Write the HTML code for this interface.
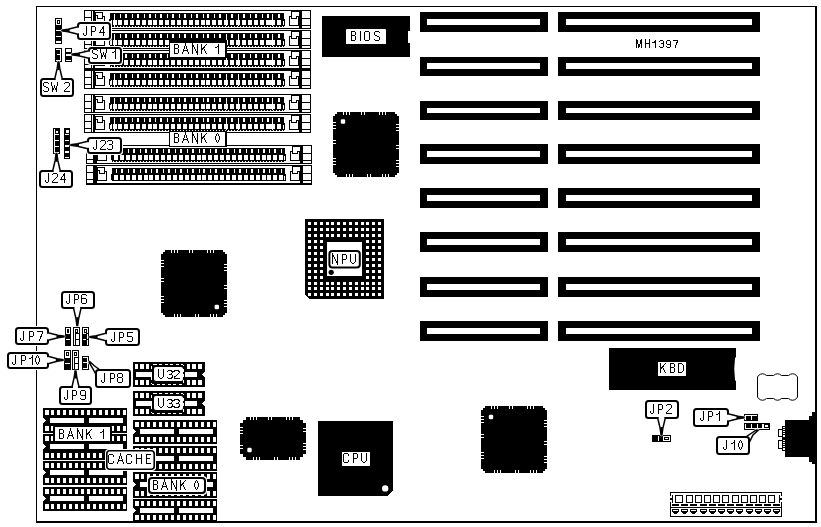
<!DOCTYPE html>
<html><head><meta charset="utf-8"><title>MH1397</title>
<style>
html,body{margin:0;padding:0;background:#fff;}
body{width:821px;height:527px;overflow:hidden;}
svg{display:block}
text{font-family:"Liberation Sans",sans-serif;fill:#000;}
</style></head><body>
<svg width="821" height="527" viewBox="0 0 821 527" shape-rendering="crispEdges">
<defs><filter id="thr" x="0" y="0" width="821" height="527" filterUnits="userSpaceOnUse" color-interpolation-filters="sRGB"><feComponentTransfer><feFuncA type="discrete" tableValues="0 0 1 1 1"/></feComponentTransfer></filter></defs>
<rect x="0" y="0" width="821" height="527" fill="#fff"/>
<rect x="36" y="6" width="781" height="517" fill="#000" />
<rect x="37" y="7" width="778" height="514" fill="#fff" />
<rect x="84" y="10" width="227" height="19" fill="#000" />
<rect x="85" y="11" width="225" height="17" fill="#fff" />
<rect x="84" y="17" width="8" height="1" fill="#000" />
<rect x="84" y="24" width="8" height="1" fill="#000" />
<rect x="91" y="10" width="1" height="18" fill="#000" />
<rect x="93" y="10" width="2" height="18" fill="#000" />
<rect x="95" y="12" width="8" height="1" fill="#000" />
<rect x="102" y="12" width="1" height="7" fill="#000" />
<rect x="102" y="16" width="3" height="1" fill="#000" />
<rect x="104" y="16" width="1" height="10" fill="#000" />
<rect x="95" y="25" width="10" height="1" fill="#000" />
<rect x="95" y="12" width="1" height="14" fill="#000" />
<rect x="95" y="15" width="3" height="1" fill="#000" />
<rect x="97" y="15" width="1" height="4" fill="#000" />
<rect x="97" y="18" width="6" height="1" fill="#000" />
<rect x="110" y="13" width="174" height="13" fill="#000" />
<rect x="109" y="19" width="1" height="6" fill="#000" />
<rect x="284" y="19" width="1" height="7" fill="#000" />
<rect x="110" y="26" width="174" height="1" fill="#000" />
<rect x="111" y="26" width="1" height="1" fill="#fff" />
<rect x="114" y="26" width="1" height="1" fill="#fff" />
<rect x="117" y="26" width="1" height="1" fill="#fff" />
<rect x="120" y="26" width="1" height="1" fill="#fff" />
<rect x="123" y="26" width="1" height="1" fill="#fff" />
<rect x="126" y="26" width="1" height="1" fill="#fff" />
<rect x="129" y="26" width="1" height="1" fill="#fff" />
<rect x="132" y="26" width="1" height="1" fill="#fff" />
<rect x="135" y="26" width="1" height="1" fill="#fff" />
<rect x="138" y="26" width="1" height="1" fill="#fff" />
<rect x="141" y="26" width="1" height="1" fill="#fff" />
<rect x="144" y="26" width="1" height="1" fill="#fff" />
<rect x="147" y="26" width="1" height="1" fill="#fff" />
<rect x="150" y="26" width="1" height="1" fill="#fff" />
<rect x="153" y="26" width="1" height="1" fill="#fff" />
<rect x="156" y="26" width="1" height="1" fill="#fff" />
<rect x="159" y="26" width="1" height="1" fill="#fff" />
<rect x="162" y="26" width="1" height="1" fill="#fff" />
<rect x="165" y="26" width="1" height="1" fill="#fff" />
<rect x="168" y="26" width="1" height="1" fill="#fff" />
<rect x="171" y="26" width="1" height="1" fill="#fff" />
<rect x="174" y="26" width="1" height="1" fill="#fff" />
<rect x="177" y="26" width="1" height="1" fill="#fff" />
<rect x="180" y="26" width="1" height="1" fill="#fff" />
<rect x="183" y="26" width="1" height="1" fill="#fff" />
<rect x="186" y="26" width="1" height="1" fill="#fff" />
<rect x="189" y="26" width="1" height="1" fill="#fff" />
<rect x="192" y="26" width="1" height="1" fill="#fff" />
<rect x="195" y="26" width="1" height="1" fill="#fff" />
<rect x="198" y="26" width="1" height="1" fill="#fff" />
<rect x="201" y="26" width="1" height="1" fill="#fff" />
<rect x="204" y="26" width="1" height="1" fill="#fff" />
<rect x="207" y="26" width="1" height="1" fill="#fff" />
<rect x="210" y="26" width="1" height="1" fill="#fff" />
<rect x="213" y="26" width="1" height="1" fill="#fff" />
<rect x="216" y="26" width="1" height="1" fill="#fff" />
<rect x="219" y="26" width="1" height="1" fill="#fff" />
<rect x="222" y="26" width="1" height="1" fill="#fff" />
<rect x="225" y="26" width="1" height="1" fill="#fff" />
<rect x="228" y="26" width="1" height="1" fill="#fff" />
<rect x="231" y="26" width="1" height="1" fill="#fff" />
<rect x="234" y="26" width="1" height="1" fill="#fff" />
<rect x="237" y="26" width="1" height="1" fill="#fff" />
<rect x="240" y="26" width="1" height="1" fill="#fff" />
<rect x="243" y="26" width="1" height="1" fill="#fff" />
<rect x="246" y="26" width="1" height="1" fill="#fff" />
<rect x="249" y="26" width="1" height="1" fill="#fff" />
<rect x="252" y="26" width="1" height="1" fill="#fff" />
<rect x="255" y="26" width="1" height="1" fill="#fff" />
<rect x="258" y="26" width="1" height="1" fill="#fff" />
<rect x="261" y="26" width="1" height="1" fill="#fff" />
<rect x="264" y="26" width="1" height="1" fill="#fff" />
<rect x="267" y="26" width="1" height="1" fill="#fff" />
<rect x="270" y="26" width="1" height="1" fill="#fff" />
<rect x="273" y="26" width="1" height="1" fill="#fff" />
<rect x="276" y="26" width="1" height="1" fill="#fff" />
<rect x="279" y="26" width="1" height="1" fill="#fff" />
<rect x="282" y="26" width="1" height="1" fill="#fff" />
<rect x="110" y="20" width="2" height="5" fill="#fff" />
<rect x="110" y="20" width="1" height="1" fill="#000" />
<rect x="113" y="20" width="4" height="5" fill="#fff" />
<rect x="114" y="14" width="1" height="7" fill="#fff" />
<rect x="114" y="25" width="1" height="1" fill="#fff" />
<rect x="118" y="20" width="4" height="5" fill="#fff" />
<rect x="120" y="14" width="1" height="4" fill="#fff" />
<rect x="124" y="20" width="4" height="5" fill="#fff" />
<rect x="125" y="14" width="2" height="4" fill="#fff" />
<rect x="130" y="20" width="4" height="5" fill="#fff" />
<rect x="132" y="14" width="1" height="4" fill="#fff" />
<rect x="136" y="20" width="4" height="5" fill="#fff" />
<rect x="137" y="14" width="2" height="4" fill="#fff" />
<rect x="142" y="20" width="4" height="5" fill="#fff" />
<rect x="144" y="14" width="1" height="4" fill="#fff" />
<rect x="148" y="20" width="4" height="5" fill="#fff" />
<rect x="149" y="14" width="2" height="4" fill="#fff" />
<rect x="153" y="20" width="4" height="5" fill="#fff" />
<rect x="155" y="14" width="1" height="4" fill="#fff" />
<rect x="159" y="20" width="4" height="5" fill="#fff" />
<rect x="160" y="14" width="2" height="4" fill="#fff" />
<rect x="165" y="20" width="4" height="5" fill="#fff" />
<rect x="167" y="14" width="1" height="4" fill="#fff" />
<rect x="171" y="20" width="4" height="5" fill="#fff" />
<rect x="172" y="14" width="2" height="4" fill="#fff" />
<rect x="177" y="20" width="4" height="5" fill="#fff" />
<rect x="179" y="14" width="1" height="4" fill="#fff" />
<rect x="183" y="20" width="4" height="5" fill="#fff" />
<rect x="184" y="14" width="2" height="4" fill="#fff" />
<rect x="189" y="20" width="4" height="5" fill="#fff" />
<rect x="191" y="14" width="1" height="4" fill="#fff" />
<rect x="195" y="20" width="4" height="5" fill="#fff" />
<rect x="196" y="14" width="2" height="4" fill="#fff" />
<rect x="201" y="20" width="4" height="5" fill="#fff" />
<rect x="203" y="14" width="1" height="4" fill="#fff" />
<rect x="206" y="20" width="4" height="5" fill="#fff" />
<rect x="207" y="14" width="2" height="4" fill="#fff" />
<rect x="212" y="20" width="4" height="5" fill="#fff" />
<rect x="214" y="14" width="1" height="4" fill="#fff" />
<rect x="218" y="20" width="4" height="5" fill="#fff" />
<rect x="219" y="14" width="2" height="4" fill="#fff" />
<rect x="224" y="20" width="4" height="5" fill="#fff" />
<rect x="226" y="14" width="1" height="12" fill="#fff" />
<rect x="230" y="20" width="4" height="5" fill="#fff" />
<rect x="231" y="14" width="2" height="4" fill="#fff" />
<rect x="236" y="20" width="4" height="5" fill="#fff" />
<rect x="238" y="14" width="1" height="12" fill="#fff" />
<rect x="242" y="20" width="4" height="5" fill="#fff" />
<rect x="243" y="14" width="2" height="4" fill="#fff" />
<rect x="248" y="20" width="4" height="5" fill="#fff" />
<rect x="250" y="14" width="1" height="4" fill="#fff" />
<rect x="254" y="20" width="4" height="5" fill="#fff" />
<rect x="255" y="14" width="2" height="4" fill="#fff" />
<rect x="260" y="20" width="4" height="5" fill="#fff" />
<rect x="262" y="14" width="1" height="4" fill="#fff" />
<rect x="266" y="20" width="4" height="5" fill="#fff" />
<rect x="267" y="14" width="2" height="4" fill="#fff" />
<rect x="270" y="20" width="5" height="5" fill="#fff" />
<rect x="272" y="14" width="1" height="7" fill="#fff" />
<rect x="272" y="25" width="1" height="1" fill="#fff" />
<rect x="277" y="20" width="4" height="5" fill="#fff" />
<rect x="278" y="14" width="2" height="4" fill="#fff" />
<rect x="283" y="21" width="1" height="4" fill="#fff" />
<rect x="291" y="11" width="8" height="1" fill="#000" />
<rect x="291" y="11" width="1" height="8" fill="#000" />
<rect x="289" y="16" width="3" height="1" fill="#000" />
<rect x="289" y="16" width="1" height="10" fill="#000" />
<rect x="289" y="25" width="10" height="1" fill="#000" />
<rect x="298" y="16" width="1" height="10" fill="#000" />
<rect x="296" y="16" width="3" height="1" fill="#000" />
<rect x="296" y="16" width="1" height="3" fill="#000" />
<rect x="291" y="18" width="6" height="1" fill="#000" />
<rect x="299" y="10" width="3" height="18" fill="#000" />
<rect x="302" y="18" width="9" height="1" fill="#000" />
<rect x="302" y="25" width="9" height="1" fill="#000" />
<rect x="84" y="30" width="227" height="19" fill="#000" />
<rect x="85" y="31" width="225" height="17" fill="#fff" />
<rect x="84" y="37" width="8" height="1" fill="#000" />
<rect x="84" y="44" width="8" height="1" fill="#000" />
<rect x="91" y="30" width="1" height="18" fill="#000" />
<rect x="93" y="30" width="2" height="18" fill="#000" />
<rect x="95" y="32" width="8" height="1" fill="#000" />
<rect x="102" y="32" width="1" height="7" fill="#000" />
<rect x="102" y="36" width="3" height="1" fill="#000" />
<rect x="104" y="36" width="1" height="10" fill="#000" />
<rect x="95" y="45" width="10" height="1" fill="#000" />
<rect x="95" y="32" width="1" height="14" fill="#000" />
<rect x="95" y="35" width="3" height="1" fill="#000" />
<rect x="97" y="35" width="1" height="4" fill="#000" />
<rect x="97" y="38" width="6" height="1" fill="#000" />
<rect x="110" y="33" width="174" height="13" fill="#000" />
<rect x="109" y="39" width="1" height="6" fill="#000" />
<rect x="284" y="39" width="1" height="7" fill="#000" />
<rect x="110" y="46" width="174" height="1" fill="#000" />
<rect x="111" y="46" width="1" height="1" fill="#fff" />
<rect x="114" y="46" width="1" height="1" fill="#fff" />
<rect x="117" y="46" width="1" height="1" fill="#fff" />
<rect x="120" y="46" width="1" height="1" fill="#fff" />
<rect x="123" y="46" width="1" height="1" fill="#fff" />
<rect x="126" y="46" width="1" height="1" fill="#fff" />
<rect x="129" y="46" width="1" height="1" fill="#fff" />
<rect x="132" y="46" width="1" height="1" fill="#fff" />
<rect x="135" y="46" width="1" height="1" fill="#fff" />
<rect x="138" y="46" width="1" height="1" fill="#fff" />
<rect x="141" y="46" width="1" height="1" fill="#fff" />
<rect x="144" y="46" width="1" height="1" fill="#fff" />
<rect x="147" y="46" width="1" height="1" fill="#fff" />
<rect x="150" y="46" width="1" height="1" fill="#fff" />
<rect x="153" y="46" width="1" height="1" fill="#fff" />
<rect x="156" y="46" width="1" height="1" fill="#fff" />
<rect x="159" y="46" width="1" height="1" fill="#fff" />
<rect x="162" y="46" width="1" height="1" fill="#fff" />
<rect x="165" y="46" width="1" height="1" fill="#fff" />
<rect x="168" y="46" width="1" height="1" fill="#fff" />
<rect x="171" y="46" width="1" height="1" fill="#fff" />
<rect x="174" y="46" width="1" height="1" fill="#fff" />
<rect x="177" y="46" width="1" height="1" fill="#fff" />
<rect x="180" y="46" width="1" height="1" fill="#fff" />
<rect x="183" y="46" width="1" height="1" fill="#fff" />
<rect x="186" y="46" width="1" height="1" fill="#fff" />
<rect x="189" y="46" width="1" height="1" fill="#fff" />
<rect x="192" y="46" width="1" height="1" fill="#fff" />
<rect x="195" y="46" width="1" height="1" fill="#fff" />
<rect x="198" y="46" width="1" height="1" fill="#fff" />
<rect x="201" y="46" width="1" height="1" fill="#fff" />
<rect x="204" y="46" width="1" height="1" fill="#fff" />
<rect x="207" y="46" width="1" height="1" fill="#fff" />
<rect x="210" y="46" width="1" height="1" fill="#fff" />
<rect x="213" y="46" width="1" height="1" fill="#fff" />
<rect x="216" y="46" width="1" height="1" fill="#fff" />
<rect x="219" y="46" width="1" height="1" fill="#fff" />
<rect x="222" y="46" width="1" height="1" fill="#fff" />
<rect x="225" y="46" width="1" height="1" fill="#fff" />
<rect x="228" y="46" width="1" height="1" fill="#fff" />
<rect x="231" y="46" width="1" height="1" fill="#fff" />
<rect x="234" y="46" width="1" height="1" fill="#fff" />
<rect x="237" y="46" width="1" height="1" fill="#fff" />
<rect x="240" y="46" width="1" height="1" fill="#fff" />
<rect x="243" y="46" width="1" height="1" fill="#fff" />
<rect x="246" y="46" width="1" height="1" fill="#fff" />
<rect x="249" y="46" width="1" height="1" fill="#fff" />
<rect x="252" y="46" width="1" height="1" fill="#fff" />
<rect x="255" y="46" width="1" height="1" fill="#fff" />
<rect x="258" y="46" width="1" height="1" fill="#fff" />
<rect x="261" y="46" width="1" height="1" fill="#fff" />
<rect x="264" y="46" width="1" height="1" fill="#fff" />
<rect x="267" y="46" width="1" height="1" fill="#fff" />
<rect x="270" y="46" width="1" height="1" fill="#fff" />
<rect x="273" y="46" width="1" height="1" fill="#fff" />
<rect x="276" y="46" width="1" height="1" fill="#fff" />
<rect x="279" y="46" width="1" height="1" fill="#fff" />
<rect x="282" y="46" width="1" height="1" fill="#fff" />
<rect x="110" y="40" width="2" height="5" fill="#fff" />
<rect x="110" y="40" width="1" height="1" fill="#000" />
<rect x="113" y="40" width="4" height="5" fill="#fff" />
<rect x="114" y="34" width="1" height="7" fill="#fff" />
<rect x="114" y="45" width="1" height="1" fill="#fff" />
<rect x="118" y="40" width="4" height="5" fill="#fff" />
<rect x="120" y="34" width="1" height="4" fill="#fff" />
<rect x="124" y="40" width="4" height="5" fill="#fff" />
<rect x="125" y="34" width="2" height="4" fill="#fff" />
<rect x="130" y="40" width="4" height="5" fill="#fff" />
<rect x="132" y="34" width="1" height="4" fill="#fff" />
<rect x="136" y="40" width="4" height="5" fill="#fff" />
<rect x="137" y="34" width="2" height="4" fill="#fff" />
<rect x="142" y="40" width="4" height="5" fill="#fff" />
<rect x="144" y="34" width="1" height="4" fill="#fff" />
<rect x="148" y="40" width="4" height="5" fill="#fff" />
<rect x="149" y="34" width="2" height="4" fill="#fff" />
<rect x="153" y="40" width="4" height="5" fill="#fff" />
<rect x="155" y="34" width="1" height="4" fill="#fff" />
<rect x="159" y="40" width="4" height="5" fill="#fff" />
<rect x="160" y="34" width="2" height="4" fill="#fff" />
<rect x="165" y="40" width="4" height="5" fill="#fff" />
<rect x="167" y="34" width="1" height="4" fill="#fff" />
<rect x="171" y="40" width="4" height="5" fill="#fff" />
<rect x="172" y="34" width="2" height="4" fill="#fff" />
<rect x="177" y="40" width="4" height="5" fill="#fff" />
<rect x="179" y="34" width="1" height="4" fill="#fff" />
<rect x="183" y="40" width="4" height="5" fill="#fff" />
<rect x="184" y="34" width="2" height="4" fill="#fff" />
<rect x="189" y="40" width="4" height="5" fill="#fff" />
<rect x="191" y="34" width="1" height="4" fill="#fff" />
<rect x="195" y="40" width="4" height="5" fill="#fff" />
<rect x="196" y="34" width="2" height="4" fill="#fff" />
<rect x="201" y="40" width="4" height="5" fill="#fff" />
<rect x="203" y="34" width="1" height="4" fill="#fff" />
<rect x="206" y="40" width="4" height="5" fill="#fff" />
<rect x="207" y="34" width="2" height="4" fill="#fff" />
<rect x="212" y="40" width="4" height="5" fill="#fff" />
<rect x="214" y="34" width="1" height="4" fill="#fff" />
<rect x="218" y="40" width="4" height="5" fill="#fff" />
<rect x="219" y="34" width="2" height="4" fill="#fff" />
<rect x="224" y="40" width="4" height="5" fill="#fff" />
<rect x="226" y="34" width="1" height="12" fill="#fff" />
<rect x="230" y="40" width="4" height="5" fill="#fff" />
<rect x="231" y="34" width="2" height="4" fill="#fff" />
<rect x="236" y="40" width="4" height="5" fill="#fff" />
<rect x="238" y="34" width="1" height="12" fill="#fff" />
<rect x="242" y="40" width="4" height="5" fill="#fff" />
<rect x="243" y="34" width="2" height="4" fill="#fff" />
<rect x="248" y="40" width="4" height="5" fill="#fff" />
<rect x="250" y="34" width="1" height="4" fill="#fff" />
<rect x="254" y="40" width="4" height="5" fill="#fff" />
<rect x="255" y="34" width="2" height="4" fill="#fff" />
<rect x="260" y="40" width="4" height="5" fill="#fff" />
<rect x="262" y="34" width="1" height="4" fill="#fff" />
<rect x="266" y="40" width="4" height="5" fill="#fff" />
<rect x="267" y="34" width="2" height="4" fill="#fff" />
<rect x="270" y="40" width="5" height="5" fill="#fff" />
<rect x="272" y="34" width="1" height="7" fill="#fff" />
<rect x="272" y="45" width="1" height="1" fill="#fff" />
<rect x="277" y="40" width="4" height="5" fill="#fff" />
<rect x="278" y="34" width="2" height="4" fill="#fff" />
<rect x="283" y="41" width="1" height="4" fill="#fff" />
<rect x="291" y="31" width="8" height="1" fill="#000" />
<rect x="291" y="31" width="1" height="8" fill="#000" />
<rect x="289" y="36" width="3" height="1" fill="#000" />
<rect x="289" y="36" width="1" height="10" fill="#000" />
<rect x="289" y="45" width="10" height="1" fill="#000" />
<rect x="298" y="36" width="1" height="10" fill="#000" />
<rect x="296" y="36" width="3" height="1" fill="#000" />
<rect x="296" y="36" width="1" height="3" fill="#000" />
<rect x="291" y="38" width="6" height="1" fill="#000" />
<rect x="299" y="30" width="3" height="18" fill="#000" />
<rect x="302" y="38" width="9" height="1" fill="#000" />
<rect x="302" y="45" width="9" height="1" fill="#000" />
<rect x="84" y="50" width="227" height="19" fill="#000" />
<rect x="85" y="51" width="225" height="17" fill="#fff" />
<rect x="84" y="57" width="8" height="1" fill="#000" />
<rect x="84" y="64" width="8" height="1" fill="#000" />
<rect x="91" y="50" width="1" height="18" fill="#000" />
<rect x="93" y="50" width="2" height="18" fill="#000" />
<rect x="95" y="52" width="8" height="1" fill="#000" />
<rect x="102" y="52" width="1" height="7" fill="#000" />
<rect x="102" y="56" width="3" height="1" fill="#000" />
<rect x="104" y="56" width="1" height="10" fill="#000" />
<rect x="95" y="65" width="10" height="1" fill="#000" />
<rect x="95" y="52" width="1" height="14" fill="#000" />
<rect x="95" y="55" width="3" height="1" fill="#000" />
<rect x="97" y="55" width="1" height="4" fill="#000" />
<rect x="97" y="58" width="6" height="1" fill="#000" />
<rect x="110" y="53" width="174" height="13" fill="#000" />
<rect x="109" y="59" width="1" height="6" fill="#000" />
<rect x="284" y="59" width="1" height="7" fill="#000" />
<rect x="110" y="66" width="174" height="1" fill="#000" />
<rect x="111" y="66" width="1" height="1" fill="#fff" />
<rect x="114" y="66" width="1" height="1" fill="#fff" />
<rect x="117" y="66" width="1" height="1" fill="#fff" />
<rect x="120" y="66" width="1" height="1" fill="#fff" />
<rect x="123" y="66" width="1" height="1" fill="#fff" />
<rect x="126" y="66" width="1" height="1" fill="#fff" />
<rect x="129" y="66" width="1" height="1" fill="#fff" />
<rect x="132" y="66" width="1" height="1" fill="#fff" />
<rect x="135" y="66" width="1" height="1" fill="#fff" />
<rect x="138" y="66" width="1" height="1" fill="#fff" />
<rect x="141" y="66" width="1" height="1" fill="#fff" />
<rect x="144" y="66" width="1" height="1" fill="#fff" />
<rect x="147" y="66" width="1" height="1" fill="#fff" />
<rect x="150" y="66" width="1" height="1" fill="#fff" />
<rect x="153" y="66" width="1" height="1" fill="#fff" />
<rect x="156" y="66" width="1" height="1" fill="#fff" />
<rect x="159" y="66" width="1" height="1" fill="#fff" />
<rect x="162" y="66" width="1" height="1" fill="#fff" />
<rect x="165" y="66" width="1" height="1" fill="#fff" />
<rect x="168" y="66" width="1" height="1" fill="#fff" />
<rect x="171" y="66" width="1" height="1" fill="#fff" />
<rect x="174" y="66" width="1" height="1" fill="#fff" />
<rect x="177" y="66" width="1" height="1" fill="#fff" />
<rect x="180" y="66" width="1" height="1" fill="#fff" />
<rect x="183" y="66" width="1" height="1" fill="#fff" />
<rect x="186" y="66" width="1" height="1" fill="#fff" />
<rect x="189" y="66" width="1" height="1" fill="#fff" />
<rect x="192" y="66" width="1" height="1" fill="#fff" />
<rect x="195" y="66" width="1" height="1" fill="#fff" />
<rect x="198" y="66" width="1" height="1" fill="#fff" />
<rect x="201" y="66" width="1" height="1" fill="#fff" />
<rect x="204" y="66" width="1" height="1" fill="#fff" />
<rect x="207" y="66" width="1" height="1" fill="#fff" />
<rect x="210" y="66" width="1" height="1" fill="#fff" />
<rect x="213" y="66" width="1" height="1" fill="#fff" />
<rect x="216" y="66" width="1" height="1" fill="#fff" />
<rect x="219" y="66" width="1" height="1" fill="#fff" />
<rect x="222" y="66" width="1" height="1" fill="#fff" />
<rect x="225" y="66" width="1" height="1" fill="#fff" />
<rect x="228" y="66" width="1" height="1" fill="#fff" />
<rect x="231" y="66" width="1" height="1" fill="#fff" />
<rect x="234" y="66" width="1" height="1" fill="#fff" />
<rect x="237" y="66" width="1" height="1" fill="#fff" />
<rect x="240" y="66" width="1" height="1" fill="#fff" />
<rect x="243" y="66" width="1" height="1" fill="#fff" />
<rect x="246" y="66" width="1" height="1" fill="#fff" />
<rect x="249" y="66" width="1" height="1" fill="#fff" />
<rect x="252" y="66" width="1" height="1" fill="#fff" />
<rect x="255" y="66" width="1" height="1" fill="#fff" />
<rect x="258" y="66" width="1" height="1" fill="#fff" />
<rect x="261" y="66" width="1" height="1" fill="#fff" />
<rect x="264" y="66" width="1" height="1" fill="#fff" />
<rect x="267" y="66" width="1" height="1" fill="#fff" />
<rect x="270" y="66" width="1" height="1" fill="#fff" />
<rect x="273" y="66" width="1" height="1" fill="#fff" />
<rect x="276" y="66" width="1" height="1" fill="#fff" />
<rect x="279" y="66" width="1" height="1" fill="#fff" />
<rect x="282" y="66" width="1" height="1" fill="#fff" />
<rect x="110" y="60" width="2" height="5" fill="#fff" />
<rect x="110" y="60" width="1" height="1" fill="#000" />
<rect x="113" y="60" width="4" height="5" fill="#fff" />
<rect x="114" y="54" width="1" height="7" fill="#fff" />
<rect x="114" y="65" width="1" height="1" fill="#fff" />
<rect x="118" y="60" width="4" height="5" fill="#fff" />
<rect x="120" y="54" width="1" height="4" fill="#fff" />
<rect x="124" y="60" width="4" height="5" fill="#fff" />
<rect x="125" y="54" width="2" height="4" fill="#fff" />
<rect x="130" y="60" width="4" height="5" fill="#fff" />
<rect x="132" y="54" width="1" height="4" fill="#fff" />
<rect x="136" y="60" width="4" height="5" fill="#fff" />
<rect x="137" y="54" width="2" height="4" fill="#fff" />
<rect x="142" y="60" width="4" height="5" fill="#fff" />
<rect x="144" y="54" width="1" height="4" fill="#fff" />
<rect x="148" y="60" width="4" height="5" fill="#fff" />
<rect x="149" y="54" width="2" height="4" fill="#fff" />
<rect x="153" y="60" width="4" height="5" fill="#fff" />
<rect x="155" y="54" width="1" height="4" fill="#fff" />
<rect x="159" y="60" width="4" height="5" fill="#fff" />
<rect x="160" y="54" width="2" height="4" fill="#fff" />
<rect x="165" y="60" width="4" height="5" fill="#fff" />
<rect x="167" y="54" width="1" height="4" fill="#fff" />
<rect x="171" y="60" width="4" height="5" fill="#fff" />
<rect x="172" y="54" width="2" height="4" fill="#fff" />
<rect x="177" y="60" width="4" height="5" fill="#fff" />
<rect x="179" y="54" width="1" height="4" fill="#fff" />
<rect x="183" y="60" width="4" height="5" fill="#fff" />
<rect x="184" y="54" width="2" height="4" fill="#fff" />
<rect x="189" y="60" width="4" height="5" fill="#fff" />
<rect x="191" y="54" width="1" height="4" fill="#fff" />
<rect x="195" y="60" width="4" height="5" fill="#fff" />
<rect x="196" y="54" width="2" height="4" fill="#fff" />
<rect x="201" y="60" width="4" height="5" fill="#fff" />
<rect x="203" y="54" width="1" height="4" fill="#fff" />
<rect x="206" y="60" width="4" height="5" fill="#fff" />
<rect x="207" y="54" width="2" height="4" fill="#fff" />
<rect x="212" y="60" width="4" height="5" fill="#fff" />
<rect x="214" y="54" width="1" height="4" fill="#fff" />
<rect x="218" y="60" width="4" height="5" fill="#fff" />
<rect x="219" y="54" width="2" height="4" fill="#fff" />
<rect x="224" y="60" width="4" height="5" fill="#fff" />
<rect x="226" y="54" width="1" height="12" fill="#fff" />
<rect x="230" y="60" width="4" height="5" fill="#fff" />
<rect x="231" y="54" width="2" height="4" fill="#fff" />
<rect x="236" y="60" width="4" height="5" fill="#fff" />
<rect x="238" y="54" width="1" height="12" fill="#fff" />
<rect x="242" y="60" width="4" height="5" fill="#fff" />
<rect x="243" y="54" width="2" height="4" fill="#fff" />
<rect x="248" y="60" width="4" height="5" fill="#fff" />
<rect x="250" y="54" width="1" height="4" fill="#fff" />
<rect x="254" y="60" width="4" height="5" fill="#fff" />
<rect x="255" y="54" width="2" height="4" fill="#fff" />
<rect x="260" y="60" width="4" height="5" fill="#fff" />
<rect x="262" y="54" width="1" height="4" fill="#fff" />
<rect x="266" y="60" width="4" height="5" fill="#fff" />
<rect x="267" y="54" width="2" height="4" fill="#fff" />
<rect x="270" y="60" width="5" height="5" fill="#fff" />
<rect x="272" y="54" width="1" height="7" fill="#fff" />
<rect x="272" y="65" width="1" height="1" fill="#fff" />
<rect x="277" y="60" width="4" height="5" fill="#fff" />
<rect x="278" y="54" width="2" height="4" fill="#fff" />
<rect x="283" y="61" width="1" height="4" fill="#fff" />
<rect x="291" y="51" width="8" height="1" fill="#000" />
<rect x="291" y="51" width="1" height="8" fill="#000" />
<rect x="289" y="56" width="3" height="1" fill="#000" />
<rect x="289" y="56" width="1" height="10" fill="#000" />
<rect x="289" y="65" width="10" height="1" fill="#000" />
<rect x="298" y="56" width="1" height="10" fill="#000" />
<rect x="296" y="56" width="3" height="1" fill="#000" />
<rect x="296" y="56" width="1" height="3" fill="#000" />
<rect x="291" y="58" width="6" height="1" fill="#000" />
<rect x="299" y="50" width="3" height="18" fill="#000" />
<rect x="302" y="58" width="9" height="1" fill="#000" />
<rect x="302" y="65" width="9" height="1" fill="#000" />
<rect x="84" y="70" width="227" height="19" fill="#000" />
<rect x="85" y="71" width="225" height="17" fill="#fff" />
<rect x="84" y="77" width="8" height="1" fill="#000" />
<rect x="84" y="84" width="8" height="1" fill="#000" />
<rect x="91" y="70" width="1" height="18" fill="#000" />
<rect x="93" y="70" width="2" height="18" fill="#000" />
<rect x="95" y="72" width="8" height="1" fill="#000" />
<rect x="102" y="72" width="1" height="7" fill="#000" />
<rect x="102" y="76" width="3" height="1" fill="#000" />
<rect x="104" y="76" width="1" height="10" fill="#000" />
<rect x="95" y="85" width="10" height="1" fill="#000" />
<rect x="95" y="72" width="1" height="14" fill="#000" />
<rect x="95" y="75" width="3" height="1" fill="#000" />
<rect x="97" y="75" width="1" height="4" fill="#000" />
<rect x="97" y="78" width="6" height="1" fill="#000" />
<rect x="110" y="73" width="174" height="13" fill="#000" />
<rect x="109" y="79" width="1" height="6" fill="#000" />
<rect x="284" y="79" width="1" height="7" fill="#000" />
<rect x="110" y="86" width="174" height="1" fill="#000" />
<rect x="111" y="86" width="1" height="1" fill="#fff" />
<rect x="114" y="86" width="1" height="1" fill="#fff" />
<rect x="117" y="86" width="1" height="1" fill="#fff" />
<rect x="120" y="86" width="1" height="1" fill="#fff" />
<rect x="123" y="86" width="1" height="1" fill="#fff" />
<rect x="126" y="86" width="1" height="1" fill="#fff" />
<rect x="129" y="86" width="1" height="1" fill="#fff" />
<rect x="132" y="86" width="1" height="1" fill="#fff" />
<rect x="135" y="86" width="1" height="1" fill="#fff" />
<rect x="138" y="86" width="1" height="1" fill="#fff" />
<rect x="141" y="86" width="1" height="1" fill="#fff" />
<rect x="144" y="86" width="1" height="1" fill="#fff" />
<rect x="147" y="86" width="1" height="1" fill="#fff" />
<rect x="150" y="86" width="1" height="1" fill="#fff" />
<rect x="153" y="86" width="1" height="1" fill="#fff" />
<rect x="156" y="86" width="1" height="1" fill="#fff" />
<rect x="159" y="86" width="1" height="1" fill="#fff" />
<rect x="162" y="86" width="1" height="1" fill="#fff" />
<rect x="165" y="86" width="1" height="1" fill="#fff" />
<rect x="168" y="86" width="1" height="1" fill="#fff" />
<rect x="171" y="86" width="1" height="1" fill="#fff" />
<rect x="174" y="86" width="1" height="1" fill="#fff" />
<rect x="177" y="86" width="1" height="1" fill="#fff" />
<rect x="180" y="86" width="1" height="1" fill="#fff" />
<rect x="183" y="86" width="1" height="1" fill="#fff" />
<rect x="186" y="86" width="1" height="1" fill="#fff" />
<rect x="189" y="86" width="1" height="1" fill="#fff" />
<rect x="192" y="86" width="1" height="1" fill="#fff" />
<rect x="195" y="86" width="1" height="1" fill="#fff" />
<rect x="198" y="86" width="1" height="1" fill="#fff" />
<rect x="201" y="86" width="1" height="1" fill="#fff" />
<rect x="204" y="86" width="1" height="1" fill="#fff" />
<rect x="207" y="86" width="1" height="1" fill="#fff" />
<rect x="210" y="86" width="1" height="1" fill="#fff" />
<rect x="213" y="86" width="1" height="1" fill="#fff" />
<rect x="216" y="86" width="1" height="1" fill="#fff" />
<rect x="219" y="86" width="1" height="1" fill="#fff" />
<rect x="222" y="86" width="1" height="1" fill="#fff" />
<rect x="225" y="86" width="1" height="1" fill="#fff" />
<rect x="228" y="86" width="1" height="1" fill="#fff" />
<rect x="231" y="86" width="1" height="1" fill="#fff" />
<rect x="234" y="86" width="1" height="1" fill="#fff" />
<rect x="237" y="86" width="1" height="1" fill="#fff" />
<rect x="240" y="86" width="1" height="1" fill="#fff" />
<rect x="243" y="86" width="1" height="1" fill="#fff" />
<rect x="246" y="86" width="1" height="1" fill="#fff" />
<rect x="249" y="86" width="1" height="1" fill="#fff" />
<rect x="252" y="86" width="1" height="1" fill="#fff" />
<rect x="255" y="86" width="1" height="1" fill="#fff" />
<rect x="258" y="86" width="1" height="1" fill="#fff" />
<rect x="261" y="86" width="1" height="1" fill="#fff" />
<rect x="264" y="86" width="1" height="1" fill="#fff" />
<rect x="267" y="86" width="1" height="1" fill="#fff" />
<rect x="270" y="86" width="1" height="1" fill="#fff" />
<rect x="273" y="86" width="1" height="1" fill="#fff" />
<rect x="276" y="86" width="1" height="1" fill="#fff" />
<rect x="279" y="86" width="1" height="1" fill="#fff" />
<rect x="282" y="86" width="1" height="1" fill="#fff" />
<rect x="110" y="80" width="2" height="5" fill="#fff" />
<rect x="110" y="80" width="1" height="1" fill="#000" />
<rect x="113" y="80" width="4" height="5" fill="#fff" />
<rect x="114" y="74" width="1" height="7" fill="#fff" />
<rect x="114" y="85" width="1" height="1" fill="#fff" />
<rect x="118" y="80" width="4" height="5" fill="#fff" />
<rect x="120" y="74" width="1" height="4" fill="#fff" />
<rect x="124" y="80" width="4" height="5" fill="#fff" />
<rect x="125" y="74" width="2" height="4" fill="#fff" />
<rect x="130" y="80" width="4" height="5" fill="#fff" />
<rect x="132" y="74" width="1" height="4" fill="#fff" />
<rect x="136" y="80" width="4" height="5" fill="#fff" />
<rect x="137" y="74" width="2" height="4" fill="#fff" />
<rect x="142" y="80" width="4" height="5" fill="#fff" />
<rect x="144" y="74" width="1" height="4" fill="#fff" />
<rect x="148" y="80" width="4" height="5" fill="#fff" />
<rect x="149" y="74" width="2" height="4" fill="#fff" />
<rect x="153" y="80" width="4" height="5" fill="#fff" />
<rect x="155" y="74" width="1" height="4" fill="#fff" />
<rect x="159" y="80" width="4" height="5" fill="#fff" />
<rect x="160" y="74" width="2" height="4" fill="#fff" />
<rect x="165" y="80" width="4" height="5" fill="#fff" />
<rect x="167" y="74" width="1" height="4" fill="#fff" />
<rect x="171" y="80" width="4" height="5" fill="#fff" />
<rect x="172" y="74" width="2" height="4" fill="#fff" />
<rect x="177" y="80" width="4" height="5" fill="#fff" />
<rect x="179" y="74" width="1" height="4" fill="#fff" />
<rect x="183" y="80" width="4" height="5" fill="#fff" />
<rect x="184" y="74" width="2" height="4" fill="#fff" />
<rect x="189" y="80" width="4" height="5" fill="#fff" />
<rect x="191" y="74" width="1" height="4" fill="#fff" />
<rect x="195" y="80" width="4" height="5" fill="#fff" />
<rect x="196" y="74" width="2" height="4" fill="#fff" />
<rect x="201" y="80" width="4" height="5" fill="#fff" />
<rect x="203" y="74" width="1" height="4" fill="#fff" />
<rect x="206" y="80" width="4" height="5" fill="#fff" />
<rect x="207" y="74" width="2" height="4" fill="#fff" />
<rect x="212" y="80" width="4" height="5" fill="#fff" />
<rect x="214" y="74" width="1" height="4" fill="#fff" />
<rect x="218" y="80" width="4" height="5" fill="#fff" />
<rect x="219" y="74" width="2" height="4" fill="#fff" />
<rect x="224" y="80" width="4" height="5" fill="#fff" />
<rect x="226" y="74" width="1" height="12" fill="#fff" />
<rect x="230" y="80" width="4" height="5" fill="#fff" />
<rect x="231" y="74" width="2" height="4" fill="#fff" />
<rect x="236" y="80" width="4" height="5" fill="#fff" />
<rect x="238" y="74" width="1" height="12" fill="#fff" />
<rect x="242" y="80" width="4" height="5" fill="#fff" />
<rect x="243" y="74" width="2" height="4" fill="#fff" />
<rect x="248" y="80" width="4" height="5" fill="#fff" />
<rect x="250" y="74" width="1" height="4" fill="#fff" />
<rect x="254" y="80" width="4" height="5" fill="#fff" />
<rect x="255" y="74" width="2" height="4" fill="#fff" />
<rect x="260" y="80" width="4" height="5" fill="#fff" />
<rect x="262" y="74" width="1" height="4" fill="#fff" />
<rect x="266" y="80" width="4" height="5" fill="#fff" />
<rect x="267" y="74" width="2" height="4" fill="#fff" />
<rect x="270" y="80" width="5" height="5" fill="#fff" />
<rect x="272" y="74" width="1" height="7" fill="#fff" />
<rect x="272" y="85" width="1" height="1" fill="#fff" />
<rect x="277" y="80" width="4" height="5" fill="#fff" />
<rect x="278" y="74" width="2" height="4" fill="#fff" />
<rect x="283" y="81" width="1" height="4" fill="#fff" />
<rect x="291" y="71" width="8" height="1" fill="#000" />
<rect x="291" y="71" width="1" height="8" fill="#000" />
<rect x="289" y="76" width="3" height="1" fill="#000" />
<rect x="289" y="76" width="1" height="10" fill="#000" />
<rect x="289" y="85" width="10" height="1" fill="#000" />
<rect x="298" y="76" width="1" height="10" fill="#000" />
<rect x="296" y="76" width="3" height="1" fill="#000" />
<rect x="296" y="76" width="1" height="3" fill="#000" />
<rect x="291" y="78" width="6" height="1" fill="#000" />
<rect x="299" y="70" width="3" height="18" fill="#000" />
<rect x="302" y="78" width="9" height="1" fill="#000" />
<rect x="302" y="85" width="9" height="1" fill="#000" />
<rect x="84" y="94" width="227" height="19" fill="#000" />
<rect x="85" y="95" width="225" height="17" fill="#fff" />
<rect x="84" y="101" width="8" height="1" fill="#000" />
<rect x="84" y="108" width="8" height="1" fill="#000" />
<rect x="91" y="94" width="1" height="18" fill="#000" />
<rect x="93" y="94" width="2" height="18" fill="#000" />
<rect x="95" y="96" width="8" height="1" fill="#000" />
<rect x="102" y="96" width="1" height="7" fill="#000" />
<rect x="102" y="100" width="3" height="1" fill="#000" />
<rect x="104" y="100" width="1" height="10" fill="#000" />
<rect x="95" y="109" width="10" height="1" fill="#000" />
<rect x="95" y="96" width="1" height="14" fill="#000" />
<rect x="95" y="99" width="3" height="1" fill="#000" />
<rect x="97" y="99" width="1" height="4" fill="#000" />
<rect x="97" y="102" width="6" height="1" fill="#000" />
<rect x="110" y="97" width="174" height="13" fill="#000" />
<rect x="109" y="103" width="1" height="6" fill="#000" />
<rect x="284" y="103" width="1" height="7" fill="#000" />
<rect x="110" y="110" width="174" height="1" fill="#000" />
<rect x="111" y="110" width="1" height="1" fill="#fff" />
<rect x="114" y="110" width="1" height="1" fill="#fff" />
<rect x="117" y="110" width="1" height="1" fill="#fff" />
<rect x="120" y="110" width="1" height="1" fill="#fff" />
<rect x="123" y="110" width="1" height="1" fill="#fff" />
<rect x="126" y="110" width="1" height="1" fill="#fff" />
<rect x="129" y="110" width="1" height="1" fill="#fff" />
<rect x="132" y="110" width="1" height="1" fill="#fff" />
<rect x="135" y="110" width="1" height="1" fill="#fff" />
<rect x="138" y="110" width="1" height="1" fill="#fff" />
<rect x="141" y="110" width="1" height="1" fill="#fff" />
<rect x="144" y="110" width="1" height="1" fill="#fff" />
<rect x="147" y="110" width="1" height="1" fill="#fff" />
<rect x="150" y="110" width="1" height="1" fill="#fff" />
<rect x="153" y="110" width="1" height="1" fill="#fff" />
<rect x="156" y="110" width="1" height="1" fill="#fff" />
<rect x="159" y="110" width="1" height="1" fill="#fff" />
<rect x="162" y="110" width="1" height="1" fill="#fff" />
<rect x="165" y="110" width="1" height="1" fill="#fff" />
<rect x="168" y="110" width="1" height="1" fill="#fff" />
<rect x="171" y="110" width="1" height="1" fill="#fff" />
<rect x="174" y="110" width="1" height="1" fill="#fff" />
<rect x="177" y="110" width="1" height="1" fill="#fff" />
<rect x="180" y="110" width="1" height="1" fill="#fff" />
<rect x="183" y="110" width="1" height="1" fill="#fff" />
<rect x="186" y="110" width="1" height="1" fill="#fff" />
<rect x="189" y="110" width="1" height="1" fill="#fff" />
<rect x="192" y="110" width="1" height="1" fill="#fff" />
<rect x="195" y="110" width="1" height="1" fill="#fff" />
<rect x="198" y="110" width="1" height="1" fill="#fff" />
<rect x="201" y="110" width="1" height="1" fill="#fff" />
<rect x="204" y="110" width="1" height="1" fill="#fff" />
<rect x="207" y="110" width="1" height="1" fill="#fff" />
<rect x="210" y="110" width="1" height="1" fill="#fff" />
<rect x="213" y="110" width="1" height="1" fill="#fff" />
<rect x="216" y="110" width="1" height="1" fill="#fff" />
<rect x="219" y="110" width="1" height="1" fill="#fff" />
<rect x="222" y="110" width="1" height="1" fill="#fff" />
<rect x="225" y="110" width="1" height="1" fill="#fff" />
<rect x="228" y="110" width="1" height="1" fill="#fff" />
<rect x="231" y="110" width="1" height="1" fill="#fff" />
<rect x="234" y="110" width="1" height="1" fill="#fff" />
<rect x="237" y="110" width="1" height="1" fill="#fff" />
<rect x="240" y="110" width="1" height="1" fill="#fff" />
<rect x="243" y="110" width="1" height="1" fill="#fff" />
<rect x="246" y="110" width="1" height="1" fill="#fff" />
<rect x="249" y="110" width="1" height="1" fill="#fff" />
<rect x="252" y="110" width="1" height="1" fill="#fff" />
<rect x="255" y="110" width="1" height="1" fill="#fff" />
<rect x="258" y="110" width="1" height="1" fill="#fff" />
<rect x="261" y="110" width="1" height="1" fill="#fff" />
<rect x="264" y="110" width="1" height="1" fill="#fff" />
<rect x="267" y="110" width="1" height="1" fill="#fff" />
<rect x="270" y="110" width="1" height="1" fill="#fff" />
<rect x="273" y="110" width="1" height="1" fill="#fff" />
<rect x="276" y="110" width="1" height="1" fill="#fff" />
<rect x="279" y="110" width="1" height="1" fill="#fff" />
<rect x="282" y="110" width="1" height="1" fill="#fff" />
<rect x="110" y="104" width="2" height="5" fill="#fff" />
<rect x="110" y="104" width="1" height="1" fill="#000" />
<rect x="113" y="104" width="4" height="5" fill="#fff" />
<rect x="114" y="98" width="1" height="7" fill="#fff" />
<rect x="114" y="109" width="1" height="1" fill="#fff" />
<rect x="118" y="104" width="4" height="5" fill="#fff" />
<rect x="120" y="98" width="1" height="4" fill="#fff" />
<rect x="124" y="104" width="4" height="5" fill="#fff" />
<rect x="125" y="98" width="2" height="4" fill="#fff" />
<rect x="130" y="104" width="4" height="5" fill="#fff" />
<rect x="132" y="98" width="1" height="4" fill="#fff" />
<rect x="136" y="104" width="4" height="5" fill="#fff" />
<rect x="137" y="98" width="2" height="4" fill="#fff" />
<rect x="142" y="104" width="4" height="5" fill="#fff" />
<rect x="144" y="98" width="1" height="4" fill="#fff" />
<rect x="148" y="104" width="4" height="5" fill="#fff" />
<rect x="149" y="98" width="2" height="4" fill="#fff" />
<rect x="153" y="104" width="4" height="5" fill="#fff" />
<rect x="155" y="98" width="1" height="4" fill="#fff" />
<rect x="159" y="104" width="4" height="5" fill="#fff" />
<rect x="160" y="98" width="2" height="4" fill="#fff" />
<rect x="165" y="104" width="4" height="5" fill="#fff" />
<rect x="167" y="98" width="1" height="4" fill="#fff" />
<rect x="171" y="104" width="4" height="5" fill="#fff" />
<rect x="172" y="98" width="2" height="4" fill="#fff" />
<rect x="177" y="104" width="4" height="5" fill="#fff" />
<rect x="179" y="98" width="1" height="4" fill="#fff" />
<rect x="183" y="104" width="4" height="5" fill="#fff" />
<rect x="184" y="98" width="2" height="4" fill="#fff" />
<rect x="189" y="104" width="4" height="5" fill="#fff" />
<rect x="191" y="98" width="1" height="4" fill="#fff" />
<rect x="195" y="104" width="4" height="5" fill="#fff" />
<rect x="196" y="98" width="2" height="4" fill="#fff" />
<rect x="201" y="104" width="4" height="5" fill="#fff" />
<rect x="203" y="98" width="1" height="4" fill="#fff" />
<rect x="206" y="104" width="4" height="5" fill="#fff" />
<rect x="207" y="98" width="2" height="4" fill="#fff" />
<rect x="212" y="104" width="4" height="5" fill="#fff" />
<rect x="214" y="98" width="1" height="4" fill="#fff" />
<rect x="218" y="104" width="4" height="5" fill="#fff" />
<rect x="219" y="98" width="2" height="4" fill="#fff" />
<rect x="224" y="104" width="4" height="5" fill="#fff" />
<rect x="226" y="98" width="1" height="12" fill="#fff" />
<rect x="230" y="104" width="4" height="5" fill="#fff" />
<rect x="231" y="98" width="2" height="4" fill="#fff" />
<rect x="236" y="104" width="4" height="5" fill="#fff" />
<rect x="238" y="98" width="1" height="12" fill="#fff" />
<rect x="242" y="104" width="4" height="5" fill="#fff" />
<rect x="243" y="98" width="2" height="4" fill="#fff" />
<rect x="248" y="104" width="4" height="5" fill="#fff" />
<rect x="250" y="98" width="1" height="4" fill="#fff" />
<rect x="254" y="104" width="4" height="5" fill="#fff" />
<rect x="255" y="98" width="2" height="4" fill="#fff" />
<rect x="260" y="104" width="4" height="5" fill="#fff" />
<rect x="262" y="98" width="1" height="4" fill="#fff" />
<rect x="266" y="104" width="4" height="5" fill="#fff" />
<rect x="267" y="98" width="2" height="4" fill="#fff" />
<rect x="270" y="104" width="5" height="5" fill="#fff" />
<rect x="272" y="98" width="1" height="7" fill="#fff" />
<rect x="272" y="109" width="1" height="1" fill="#fff" />
<rect x="277" y="104" width="4" height="5" fill="#fff" />
<rect x="278" y="98" width="2" height="4" fill="#fff" />
<rect x="283" y="105" width="1" height="4" fill="#fff" />
<rect x="291" y="95" width="8" height="1" fill="#000" />
<rect x="291" y="95" width="1" height="8" fill="#000" />
<rect x="289" y="100" width="3" height="1" fill="#000" />
<rect x="289" y="100" width="1" height="10" fill="#000" />
<rect x="289" y="109" width="10" height="1" fill="#000" />
<rect x="298" y="100" width="1" height="10" fill="#000" />
<rect x="296" y="100" width="3" height="1" fill="#000" />
<rect x="296" y="100" width="1" height="3" fill="#000" />
<rect x="291" y="102" width="6" height="1" fill="#000" />
<rect x="299" y="94" width="3" height="18" fill="#000" />
<rect x="302" y="102" width="9" height="1" fill="#000" />
<rect x="302" y="109" width="9" height="1" fill="#000" />
<rect x="84" y="114" width="227" height="19" fill="#000" />
<rect x="85" y="115" width="225" height="17" fill="#fff" />
<rect x="84" y="121" width="8" height="1" fill="#000" />
<rect x="84" y="128" width="8" height="1" fill="#000" />
<rect x="91" y="114" width="1" height="18" fill="#000" />
<rect x="93" y="114" width="2" height="18" fill="#000" />
<rect x="95" y="116" width="8" height="1" fill="#000" />
<rect x="102" y="116" width="1" height="7" fill="#000" />
<rect x="102" y="120" width="3" height="1" fill="#000" />
<rect x="104" y="120" width="1" height="10" fill="#000" />
<rect x="95" y="129" width="10" height="1" fill="#000" />
<rect x="95" y="116" width="1" height="14" fill="#000" />
<rect x="95" y="119" width="3" height="1" fill="#000" />
<rect x="97" y="119" width="1" height="4" fill="#000" />
<rect x="97" y="122" width="6" height="1" fill="#000" />
<rect x="110" y="117" width="174" height="13" fill="#000" />
<rect x="109" y="123" width="1" height="6" fill="#000" />
<rect x="284" y="123" width="1" height="7" fill="#000" />
<rect x="110" y="130" width="174" height="1" fill="#000" />
<rect x="111" y="130" width="1" height="1" fill="#fff" />
<rect x="114" y="130" width="1" height="1" fill="#fff" />
<rect x="117" y="130" width="1" height="1" fill="#fff" />
<rect x="120" y="130" width="1" height="1" fill="#fff" />
<rect x="123" y="130" width="1" height="1" fill="#fff" />
<rect x="126" y="130" width="1" height="1" fill="#fff" />
<rect x="129" y="130" width="1" height="1" fill="#fff" />
<rect x="132" y="130" width="1" height="1" fill="#fff" />
<rect x="135" y="130" width="1" height="1" fill="#fff" />
<rect x="138" y="130" width="1" height="1" fill="#fff" />
<rect x="141" y="130" width="1" height="1" fill="#fff" />
<rect x="144" y="130" width="1" height="1" fill="#fff" />
<rect x="147" y="130" width="1" height="1" fill="#fff" />
<rect x="150" y="130" width="1" height="1" fill="#fff" />
<rect x="153" y="130" width="1" height="1" fill="#fff" />
<rect x="156" y="130" width="1" height="1" fill="#fff" />
<rect x="159" y="130" width="1" height="1" fill="#fff" />
<rect x="162" y="130" width="1" height="1" fill="#fff" />
<rect x="165" y="130" width="1" height="1" fill="#fff" />
<rect x="168" y="130" width="1" height="1" fill="#fff" />
<rect x="171" y="130" width="1" height="1" fill="#fff" />
<rect x="174" y="130" width="1" height="1" fill="#fff" />
<rect x="177" y="130" width="1" height="1" fill="#fff" />
<rect x="180" y="130" width="1" height="1" fill="#fff" />
<rect x="183" y="130" width="1" height="1" fill="#fff" />
<rect x="186" y="130" width="1" height="1" fill="#fff" />
<rect x="189" y="130" width="1" height="1" fill="#fff" />
<rect x="192" y="130" width="1" height="1" fill="#fff" />
<rect x="195" y="130" width="1" height="1" fill="#fff" />
<rect x="198" y="130" width="1" height="1" fill="#fff" />
<rect x="201" y="130" width="1" height="1" fill="#fff" />
<rect x="204" y="130" width="1" height="1" fill="#fff" />
<rect x="207" y="130" width="1" height="1" fill="#fff" />
<rect x="210" y="130" width="1" height="1" fill="#fff" />
<rect x="213" y="130" width="1" height="1" fill="#fff" />
<rect x="216" y="130" width="1" height="1" fill="#fff" />
<rect x="219" y="130" width="1" height="1" fill="#fff" />
<rect x="222" y="130" width="1" height="1" fill="#fff" />
<rect x="225" y="130" width="1" height="1" fill="#fff" />
<rect x="228" y="130" width="1" height="1" fill="#fff" />
<rect x="231" y="130" width="1" height="1" fill="#fff" />
<rect x="234" y="130" width="1" height="1" fill="#fff" />
<rect x="237" y="130" width="1" height="1" fill="#fff" />
<rect x="240" y="130" width="1" height="1" fill="#fff" />
<rect x="243" y="130" width="1" height="1" fill="#fff" />
<rect x="246" y="130" width="1" height="1" fill="#fff" />
<rect x="249" y="130" width="1" height="1" fill="#fff" />
<rect x="252" y="130" width="1" height="1" fill="#fff" />
<rect x="255" y="130" width="1" height="1" fill="#fff" />
<rect x="258" y="130" width="1" height="1" fill="#fff" />
<rect x="261" y="130" width="1" height="1" fill="#fff" />
<rect x="264" y="130" width="1" height="1" fill="#fff" />
<rect x="267" y="130" width="1" height="1" fill="#fff" />
<rect x="270" y="130" width="1" height="1" fill="#fff" />
<rect x="273" y="130" width="1" height="1" fill="#fff" />
<rect x="276" y="130" width="1" height="1" fill="#fff" />
<rect x="279" y="130" width="1" height="1" fill="#fff" />
<rect x="282" y="130" width="1" height="1" fill="#fff" />
<rect x="110" y="124" width="2" height="5" fill="#fff" />
<rect x="110" y="124" width="1" height="1" fill="#000" />
<rect x="113" y="124" width="4" height="5" fill="#fff" />
<rect x="114" y="118" width="1" height="7" fill="#fff" />
<rect x="114" y="129" width="1" height="1" fill="#fff" />
<rect x="118" y="124" width="4" height="5" fill="#fff" />
<rect x="120" y="118" width="1" height="4" fill="#fff" />
<rect x="124" y="124" width="4" height="5" fill="#fff" />
<rect x="125" y="118" width="2" height="4" fill="#fff" />
<rect x="130" y="124" width="4" height="5" fill="#fff" />
<rect x="132" y="118" width="1" height="4" fill="#fff" />
<rect x="136" y="124" width="4" height="5" fill="#fff" />
<rect x="137" y="118" width="2" height="4" fill="#fff" />
<rect x="142" y="124" width="4" height="5" fill="#fff" />
<rect x="144" y="118" width="1" height="4" fill="#fff" />
<rect x="148" y="124" width="4" height="5" fill="#fff" />
<rect x="149" y="118" width="2" height="4" fill="#fff" />
<rect x="153" y="124" width="4" height="5" fill="#fff" />
<rect x="155" y="118" width="1" height="4" fill="#fff" />
<rect x="159" y="124" width="4" height="5" fill="#fff" />
<rect x="160" y="118" width="2" height="4" fill="#fff" />
<rect x="165" y="124" width="4" height="5" fill="#fff" />
<rect x="167" y="118" width="1" height="4" fill="#fff" />
<rect x="171" y="124" width="4" height="5" fill="#fff" />
<rect x="172" y="118" width="2" height="4" fill="#fff" />
<rect x="177" y="124" width="4" height="5" fill="#fff" />
<rect x="179" y="118" width="1" height="4" fill="#fff" />
<rect x="183" y="124" width="4" height="5" fill="#fff" />
<rect x="184" y="118" width="2" height="4" fill="#fff" />
<rect x="189" y="124" width="4" height="5" fill="#fff" />
<rect x="191" y="118" width="1" height="4" fill="#fff" />
<rect x="195" y="124" width="4" height="5" fill="#fff" />
<rect x="196" y="118" width="2" height="4" fill="#fff" />
<rect x="201" y="124" width="4" height="5" fill="#fff" />
<rect x="203" y="118" width="1" height="4" fill="#fff" />
<rect x="206" y="124" width="4" height="5" fill="#fff" />
<rect x="207" y="118" width="2" height="4" fill="#fff" />
<rect x="212" y="124" width="4" height="5" fill="#fff" />
<rect x="214" y="118" width="1" height="4" fill="#fff" />
<rect x="218" y="124" width="4" height="5" fill="#fff" />
<rect x="219" y="118" width="2" height="4" fill="#fff" />
<rect x="224" y="124" width="4" height="5" fill="#fff" />
<rect x="226" y="118" width="1" height="12" fill="#fff" />
<rect x="230" y="124" width="4" height="5" fill="#fff" />
<rect x="231" y="118" width="2" height="4" fill="#fff" />
<rect x="236" y="124" width="4" height="5" fill="#fff" />
<rect x="238" y="118" width="1" height="12" fill="#fff" />
<rect x="242" y="124" width="4" height="5" fill="#fff" />
<rect x="243" y="118" width="2" height="4" fill="#fff" />
<rect x="248" y="124" width="4" height="5" fill="#fff" />
<rect x="250" y="118" width="1" height="4" fill="#fff" />
<rect x="254" y="124" width="4" height="5" fill="#fff" />
<rect x="255" y="118" width="2" height="4" fill="#fff" />
<rect x="260" y="124" width="4" height="5" fill="#fff" />
<rect x="262" y="118" width="1" height="4" fill="#fff" />
<rect x="266" y="124" width="4" height="5" fill="#fff" />
<rect x="267" y="118" width="2" height="4" fill="#fff" />
<rect x="270" y="124" width="5" height="5" fill="#fff" />
<rect x="272" y="118" width="1" height="7" fill="#fff" />
<rect x="272" y="129" width="1" height="1" fill="#fff" />
<rect x="277" y="124" width="4" height="5" fill="#fff" />
<rect x="278" y="118" width="2" height="4" fill="#fff" />
<rect x="283" y="125" width="1" height="4" fill="#fff" />
<rect x="291" y="115" width="8" height="1" fill="#000" />
<rect x="291" y="115" width="1" height="8" fill="#000" />
<rect x="289" y="120" width="3" height="1" fill="#000" />
<rect x="289" y="120" width="1" height="10" fill="#000" />
<rect x="289" y="129" width="10" height="1" fill="#000" />
<rect x="298" y="120" width="1" height="10" fill="#000" />
<rect x="296" y="120" width="3" height="1" fill="#000" />
<rect x="296" y="120" width="1" height="3" fill="#000" />
<rect x="291" y="122" width="6" height="1" fill="#000" />
<rect x="299" y="114" width="3" height="18" fill="#000" />
<rect x="302" y="122" width="9" height="1" fill="#000" />
<rect x="302" y="129" width="9" height="1" fill="#000" />
<rect x="84" y="69" width="227" height="1" fill="#000" />
<rect x="86" y="145" width="226" height="19" fill="#000" />
<rect x="87" y="146" width="224" height="17" fill="#fff" />
<rect x="86" y="152" width="8" height="1" fill="#000" />
<rect x="86" y="159" width="8" height="1" fill="#000" />
<rect x="93" y="145" width="1" height="18" fill="#000" />
<rect x="95" y="145" width="2" height="18" fill="#000" />
<rect x="97" y="147" width="8" height="1" fill="#000" />
<rect x="104" y="147" width="1" height="7" fill="#000" />
<rect x="104" y="151" width="3" height="1" fill="#000" />
<rect x="106" y="151" width="1" height="10" fill="#000" />
<rect x="97" y="160" width="10" height="1" fill="#000" />
<rect x="97" y="147" width="1" height="14" fill="#000" />
<rect x="97" y="150" width="3" height="1" fill="#000" />
<rect x="99" y="150" width="1" height="4" fill="#000" />
<rect x="99" y="153" width="6" height="1" fill="#000" />
<rect x="112" y="148" width="173" height="13" fill="#000" />
<rect x="111" y="154" width="1" height="6" fill="#000" />
<rect x="285" y="154" width="1" height="7" fill="#000" />
<rect x="112" y="161" width="173" height="1" fill="#000" />
<rect x="113" y="161" width="1" height="1" fill="#fff" />
<rect x="116" y="161" width="1" height="1" fill="#fff" />
<rect x="119" y="161" width="1" height="1" fill="#fff" />
<rect x="122" y="161" width="1" height="1" fill="#fff" />
<rect x="125" y="161" width="1" height="1" fill="#fff" />
<rect x="128" y="161" width="1" height="1" fill="#fff" />
<rect x="131" y="161" width="1" height="1" fill="#fff" />
<rect x="134" y="161" width="1" height="1" fill="#fff" />
<rect x="137" y="161" width="1" height="1" fill="#fff" />
<rect x="140" y="161" width="1" height="1" fill="#fff" />
<rect x="143" y="161" width="1" height="1" fill="#fff" />
<rect x="146" y="161" width="1" height="1" fill="#fff" />
<rect x="149" y="161" width="1" height="1" fill="#fff" />
<rect x="152" y="161" width="1" height="1" fill="#fff" />
<rect x="155" y="161" width="1" height="1" fill="#fff" />
<rect x="158" y="161" width="1" height="1" fill="#fff" />
<rect x="161" y="161" width="1" height="1" fill="#fff" />
<rect x="164" y="161" width="1" height="1" fill="#fff" />
<rect x="167" y="161" width="1" height="1" fill="#fff" />
<rect x="170" y="161" width="1" height="1" fill="#fff" />
<rect x="173" y="161" width="1" height="1" fill="#fff" />
<rect x="176" y="161" width="1" height="1" fill="#fff" />
<rect x="179" y="161" width="1" height="1" fill="#fff" />
<rect x="182" y="161" width="1" height="1" fill="#fff" />
<rect x="185" y="161" width="1" height="1" fill="#fff" />
<rect x="188" y="161" width="1" height="1" fill="#fff" />
<rect x="191" y="161" width="1" height="1" fill="#fff" />
<rect x="194" y="161" width="1" height="1" fill="#fff" />
<rect x="197" y="161" width="1" height="1" fill="#fff" />
<rect x="200" y="161" width="1" height="1" fill="#fff" />
<rect x="203" y="161" width="1" height="1" fill="#fff" />
<rect x="206" y="161" width="1" height="1" fill="#fff" />
<rect x="209" y="161" width="1" height="1" fill="#fff" />
<rect x="212" y="161" width="1" height="1" fill="#fff" />
<rect x="215" y="161" width="1" height="1" fill="#fff" />
<rect x="218" y="161" width="1" height="1" fill="#fff" />
<rect x="221" y="161" width="1" height="1" fill="#fff" />
<rect x="224" y="161" width="1" height="1" fill="#fff" />
<rect x="227" y="161" width="1" height="1" fill="#fff" />
<rect x="230" y="161" width="1" height="1" fill="#fff" />
<rect x="233" y="161" width="1" height="1" fill="#fff" />
<rect x="236" y="161" width="1" height="1" fill="#fff" />
<rect x="239" y="161" width="1" height="1" fill="#fff" />
<rect x="242" y="161" width="1" height="1" fill="#fff" />
<rect x="245" y="161" width="1" height="1" fill="#fff" />
<rect x="248" y="161" width="1" height="1" fill="#fff" />
<rect x="251" y="161" width="1" height="1" fill="#fff" />
<rect x="254" y="161" width="1" height="1" fill="#fff" />
<rect x="257" y="161" width="1" height="1" fill="#fff" />
<rect x="260" y="161" width="1" height="1" fill="#fff" />
<rect x="263" y="161" width="1" height="1" fill="#fff" />
<rect x="266" y="161" width="1" height="1" fill="#fff" />
<rect x="269" y="161" width="1" height="1" fill="#fff" />
<rect x="272" y="161" width="1" height="1" fill="#fff" />
<rect x="275" y="161" width="1" height="1" fill="#fff" />
<rect x="278" y="161" width="1" height="1" fill="#fff" />
<rect x="281" y="161" width="1" height="1" fill="#fff" />
<rect x="284" y="161" width="1" height="1" fill="#fff" />
<rect x="114" y="155" width="4" height="5" fill="#fff" />
<rect x="116" y="149" width="1" height="4" fill="#fff" />
<rect x="120" y="155" width="4" height="5" fill="#fff" />
<rect x="121" y="149" width="2" height="4" fill="#fff" />
<rect x="126" y="155" width="4" height="5" fill="#fff" />
<rect x="128" y="149" width="1" height="4" fill="#fff" />
<rect x="132" y="155" width="4" height="5" fill="#fff" />
<rect x="133" y="149" width="2" height="4" fill="#fff" />
<rect x="138" y="155" width="4" height="5" fill="#fff" />
<rect x="140" y="149" width="1" height="4" fill="#fff" />
<rect x="144" y="155" width="4" height="5" fill="#fff" />
<rect x="145" y="149" width="2" height="4" fill="#fff" />
<rect x="149" y="155" width="4" height="5" fill="#fff" />
<rect x="151" y="149" width="1" height="4" fill="#fff" />
<rect x="155" y="155" width="4" height="5" fill="#fff" />
<rect x="156" y="149" width="2" height="4" fill="#fff" />
<rect x="161" y="155" width="4" height="5" fill="#fff" />
<rect x="163" y="149" width="1" height="4" fill="#fff" />
<rect x="167" y="155" width="4" height="5" fill="#fff" />
<rect x="168" y="149" width="2" height="4" fill="#fff" />
<rect x="173" y="155" width="4" height="5" fill="#fff" />
<rect x="175" y="149" width="1" height="4" fill="#fff" />
<rect x="179" y="155" width="4" height="5" fill="#fff" />
<rect x="180" y="149" width="2" height="4" fill="#fff" />
<rect x="185" y="155" width="4" height="5" fill="#fff" />
<rect x="187" y="149" width="1" height="4" fill="#fff" />
<rect x="191" y="155" width="4" height="5" fill="#fff" />
<rect x="192" y="149" width="2" height="4" fill="#fff" />
<rect x="197" y="155" width="4" height="5" fill="#fff" />
<rect x="199" y="149" width="1" height="4" fill="#fff" />
<rect x="202" y="155" width="4" height="5" fill="#fff" />
<rect x="203" y="149" width="2" height="4" fill="#fff" />
<rect x="208" y="155" width="4" height="5" fill="#fff" />
<rect x="210" y="149" width="1" height="4" fill="#fff" />
<rect x="214" y="155" width="4" height="5" fill="#fff" />
<rect x="215" y="149" width="2" height="4" fill="#fff" />
<rect x="220" y="155" width="4" height="5" fill="#fff" />
<rect x="222" y="149" width="1" height="4" fill="#fff" />
<rect x="226" y="155" width="4" height="5" fill="#fff" />
<rect x="227" y="149" width="2" height="4" fill="#fff" />
<rect x="232" y="155" width="4" height="5" fill="#fff" />
<rect x="234" y="149" width="1" height="4" fill="#fff" />
<rect x="238" y="155" width="4" height="5" fill="#fff" />
<rect x="239" y="149" width="2" height="4" fill="#fff" />
<rect x="244" y="155" width="4" height="5" fill="#fff" />
<rect x="246" y="149" width="1" height="4" fill="#fff" />
<rect x="250" y="155" width="4" height="5" fill="#fff" />
<rect x="251" y="149" width="2" height="4" fill="#fff" />
<rect x="256" y="155" width="4" height="5" fill="#fff" />
<rect x="258" y="149" width="1" height="4" fill="#fff" />
<rect x="262" y="155" width="4" height="5" fill="#fff" />
<rect x="263" y="149" width="2" height="4" fill="#fff" />
<rect x="267" y="155" width="4" height="5" fill="#fff" />
<rect x="269" y="149" width="1" height="4" fill="#fff" />
<rect x="273" y="155" width="4" height="5" fill="#fff" />
<rect x="274" y="149" width="2" height="4" fill="#fff" />
<rect x="279" y="155" width="4" height="5" fill="#fff" />
<rect x="281" y="149" width="1" height="4" fill="#fff" />
<rect x="284" y="156" width="1" height="4" fill="#fff" />
<rect x="292" y="146" width="8" height="1" fill="#000" />
<rect x="292" y="146" width="1" height="8" fill="#000" />
<rect x="290" y="151" width="3" height="1" fill="#000" />
<rect x="290" y="151" width="1" height="10" fill="#000" />
<rect x="290" y="160" width="10" height="1" fill="#000" />
<rect x="299" y="151" width="1" height="10" fill="#000" />
<rect x="297" y="151" width="3" height="1" fill="#000" />
<rect x="297" y="151" width="1" height="3" fill="#000" />
<rect x="292" y="153" width="6" height="1" fill="#000" />
<rect x="300" y="145" width="3" height="18" fill="#000" />
<rect x="303" y="153" width="9" height="1" fill="#000" />
<rect x="303" y="160" width="9" height="1" fill="#000" />
<rect x="86" y="165" width="226" height="19" fill="#000" />
<rect x="87" y="166" width="224" height="17" fill="#fff" />
<rect x="86" y="172" width="8" height="1" fill="#000" />
<rect x="86" y="179" width="8" height="1" fill="#000" />
<rect x="93" y="165" width="1" height="18" fill="#000" />
<rect x="95" y="165" width="2" height="18" fill="#000" />
<rect x="97" y="167" width="8" height="1" fill="#000" />
<rect x="104" y="167" width="1" height="7" fill="#000" />
<rect x="104" y="171" width="3" height="1" fill="#000" />
<rect x="106" y="171" width="1" height="10" fill="#000" />
<rect x="97" y="180" width="10" height="1" fill="#000" />
<rect x="97" y="167" width="1" height="14" fill="#000" />
<rect x="97" y="170" width="3" height="1" fill="#000" />
<rect x="99" y="170" width="1" height="4" fill="#000" />
<rect x="99" y="173" width="6" height="1" fill="#000" />
<rect x="112" y="168" width="173" height="13" fill="#000" />
<rect x="111" y="174" width="1" height="6" fill="#000" />
<rect x="285" y="174" width="1" height="7" fill="#000" />
<rect x="114" y="175" width="4" height="5" fill="#fff" />
<rect x="116" y="169" width="1" height="4" fill="#fff" />
<rect x="120" y="175" width="4" height="5" fill="#fff" />
<rect x="121" y="169" width="2" height="4" fill="#fff" />
<rect x="126" y="175" width="4" height="5" fill="#fff" />
<rect x="128" y="169" width="1" height="4" fill="#fff" />
<rect x="132" y="175" width="4" height="5" fill="#fff" />
<rect x="133" y="169" width="2" height="4" fill="#fff" />
<rect x="138" y="175" width="4" height="5" fill="#fff" />
<rect x="140" y="169" width="1" height="4" fill="#fff" />
<rect x="144" y="175" width="4" height="5" fill="#fff" />
<rect x="145" y="169" width="2" height="4" fill="#fff" />
<rect x="149" y="175" width="4" height="5" fill="#fff" />
<rect x="151" y="169" width="1" height="4" fill="#fff" />
<rect x="155" y="175" width="4" height="5" fill="#fff" />
<rect x="156" y="169" width="2" height="4" fill="#fff" />
<rect x="161" y="175" width="4" height="5" fill="#fff" />
<rect x="163" y="169" width="1" height="4" fill="#fff" />
<rect x="167" y="175" width="4" height="5" fill="#fff" />
<rect x="168" y="169" width="2" height="4" fill="#fff" />
<rect x="173" y="175" width="4" height="5" fill="#fff" />
<rect x="175" y="169" width="1" height="4" fill="#fff" />
<rect x="179" y="175" width="4" height="5" fill="#fff" />
<rect x="180" y="169" width="2" height="4" fill="#fff" />
<rect x="185" y="175" width="4" height="5" fill="#fff" />
<rect x="187" y="169" width="1" height="4" fill="#fff" />
<rect x="191" y="175" width="4" height="5" fill="#fff" />
<rect x="192" y="169" width="2" height="4" fill="#fff" />
<rect x="197" y="175" width="4" height="5" fill="#fff" />
<rect x="199" y="169" width="1" height="4" fill="#fff" />
<rect x="202" y="175" width="4" height="5" fill="#fff" />
<rect x="203" y="169" width="2" height="4" fill="#fff" />
<rect x="208" y="175" width="4" height="5" fill="#fff" />
<rect x="210" y="169" width="1" height="4" fill="#fff" />
<rect x="214" y="175" width="4" height="5" fill="#fff" />
<rect x="215" y="169" width="2" height="4" fill="#fff" />
<rect x="220" y="175" width="4" height="5" fill="#fff" />
<rect x="222" y="169" width="1" height="4" fill="#fff" />
<rect x="226" y="175" width="4" height="5" fill="#fff" />
<rect x="227" y="169" width="2" height="4" fill="#fff" />
<rect x="232" y="175" width="4" height="5" fill="#fff" />
<rect x="234" y="169" width="1" height="4" fill="#fff" />
<rect x="238" y="175" width="4" height="5" fill="#fff" />
<rect x="239" y="169" width="2" height="4" fill="#fff" />
<rect x="244" y="175" width="4" height="5" fill="#fff" />
<rect x="246" y="169" width="1" height="4" fill="#fff" />
<rect x="250" y="175" width="4" height="5" fill="#fff" />
<rect x="251" y="169" width="2" height="4" fill="#fff" />
<rect x="256" y="175" width="4" height="5" fill="#fff" />
<rect x="258" y="169" width="1" height="4" fill="#fff" />
<rect x="262" y="175" width="4" height="5" fill="#fff" />
<rect x="263" y="169" width="2" height="4" fill="#fff" />
<rect x="267" y="175" width="4" height="5" fill="#fff" />
<rect x="269" y="169" width="1" height="4" fill="#fff" />
<rect x="273" y="175" width="4" height="5" fill="#fff" />
<rect x="274" y="169" width="2" height="4" fill="#fff" />
<rect x="279" y="175" width="4" height="5" fill="#fff" />
<rect x="281" y="169" width="1" height="4" fill="#fff" />
<rect x="284" y="176" width="1" height="4" fill="#fff" />
<rect x="292" y="166" width="8" height="1" fill="#000" />
<rect x="292" y="166" width="1" height="8" fill="#000" />
<rect x="290" y="171" width="3" height="1" fill="#000" />
<rect x="290" y="171" width="1" height="10" fill="#000" />
<rect x="290" y="180" width="10" height="1" fill="#000" />
<rect x="299" y="171" width="1" height="10" fill="#000" />
<rect x="297" y="171" width="3" height="1" fill="#000" />
<rect x="297" y="171" width="1" height="3" fill="#000" />
<rect x="292" y="173" width="6" height="1" fill="#000" />
<rect x="300" y="165" width="3" height="18" fill="#000" />
<rect x="303" y="173" width="9" height="1" fill="#000" />
<rect x="303" y="180" width="9" height="1" fill="#000" />
<rect x="86" y="184" width="226" height="1" fill="#000" />
<rect x="94" y="145" width="1" height="18" fill="#000" />
<rect x="94" y="165" width="1" height="18" fill="#000" />
<rect x="420" y="12" width="128" height="20" fill="#000" />
<rect x="427" y="19" width="113" height="6" fill="#fff" />
<rect x="558" y="12" width="202" height="20" fill="#000" />
<rect x="566" y="19" width="186" height="6" fill="#fff" />
<rect x="420" y="57" width="128" height="19" fill="#000" />
<rect x="427" y="63" width="113" height="6" fill="#fff" />
<rect x="558" y="57" width="202" height="19" fill="#000" />
<rect x="566" y="63" width="186" height="6" fill="#fff" />
<rect x="420" y="101" width="128" height="19" fill="#000" />
<rect x="427" y="108" width="113" height="5" fill="#fff" />
<rect x="558" y="101" width="202" height="19" fill="#000" />
<rect x="566" y="108" width="186" height="5" fill="#fff" />
<rect x="420" y="144" width="128" height="20" fill="#000" />
<rect x="427" y="151" width="113" height="6" fill="#fff" />
<rect x="558" y="144" width="202" height="20" fill="#000" />
<rect x="566" y="151" width="186" height="6" fill="#fff" />
<rect x="420" y="188" width="128" height="20" fill="#000" />
<rect x="427" y="195" width="113" height="6" fill="#fff" />
<rect x="558" y="188" width="202" height="20" fill="#000" />
<rect x="566" y="195" width="186" height="6" fill="#fff" />
<rect x="420" y="232" width="128" height="20" fill="#000" />
<rect x="427" y="239" width="113" height="6" fill="#fff" />
<rect x="558" y="232" width="202" height="20" fill="#000" />
<rect x="566" y="239" width="186" height="6" fill="#fff" />
<rect x="420" y="277" width="128" height="20" fill="#000" />
<rect x="427" y="284" width="113" height="6" fill="#fff" />
<rect x="558" y="277" width="202" height="20" fill="#000" />
<rect x="566" y="284" width="186" height="6" fill="#fff" />
<rect x="420" y="321" width="128" height="20" fill="#000" />
<rect x="427" y="328" width="113" height="6" fill="#fff" />
<rect x="558" y="321" width="202" height="20" fill="#000" />
<rect x="566" y="328" width="186" height="6" fill="#fff" />
<rect x="322" y="16" width="88" height="41" fill="#000" />
<rect x="408" y="31" width="2" height="12" fill="#fff" />
<path d="M346,44 V30 Q346,29 347,29 H385 Q386,29 386,30 V44 Z" fill="#fff" shape-rendering="auto"/>
<path d="M337,112 L395,112 L395,114.0 L397.0,114.0 L397.0,116 L399,116 L399,173 L397.0,173 L397.0,175.0 L395,175.0 L395,177 L337,177 L337,175.0 L335.0,175.0 L335.0,173 L333,173 L333,116 L335.0,116 L335.0,114.0 L337,114.0 Z" fill="#000" stroke="none" stroke-width="1" />
<rect x="343" y="112" width="1" height="3" fill="#fff" />
<rect x="388" y="174" width="1" height="3" fill="#fff" />
<rect x="346" y="112" width="1" height="3" fill="#fff" />
<rect x="385" y="174" width="1" height="3" fill="#fff" />
<rect x="349" y="112" width="1" height="3" fill="#fff" />
<rect x="382" y="174" width="1" height="3" fill="#fff" />
<rect x="361" y="112" width="1" height="3" fill="#fff" />
<rect x="370" y="174" width="1" height="3" fill="#fff" />
<rect x="364" y="112" width="1" height="3" fill="#fff" />
<rect x="367" y="174" width="1" height="3" fill="#fff" />
<rect x="379" y="112" width="1" height="3" fill="#fff" />
<rect x="352" y="174" width="1" height="3" fill="#fff" />
<rect x="382" y="112" width="1" height="3" fill="#fff" />
<rect x="349" y="174" width="1" height="3" fill="#fff" />
<rect x="385" y="112" width="1" height="3" fill="#fff" />
<rect x="346" y="174" width="1" height="3" fill="#fff" />
<rect x="333" y="122" width="3" height="1" fill="#fff" />
<rect x="396" y="166" width="3" height="1" fill="#fff" />
<rect x="333" y="125" width="3" height="1" fill="#fff" />
<rect x="396" y="163" width="3" height="1" fill="#fff" />
<rect x="333" y="128" width="3" height="1" fill="#fff" />
<rect x="396" y="160" width="3" height="1" fill="#fff" />
<rect x="333" y="140" width="3" height="1" fill="#fff" />
<rect x="396" y="148" width="3" height="1" fill="#fff" />
<rect x="333" y="143" width="3" height="1" fill="#fff" />
<rect x="396" y="145" width="3" height="1" fill="#fff" />
<rect x="333" y="158" width="3" height="1" fill="#fff" />
<rect x="396" y="130" width="3" height="1" fill="#fff" />
<rect x="333" y="161" width="3" height="1" fill="#fff" />
<rect x="396" y="127" width="3" height="1" fill="#fff" />
<rect x="333" y="164" width="3" height="1" fill="#fff" />
<rect x="396" y="124" width="3" height="1" fill="#fff" />
<rect x="340.8" y="119.3" width="4.4" height="4.4" rx="1.3" fill="#fff" shape-rendering="auto"/>
<path d="M165,250 L223,250 L223,252.0 L225.0,252.0 L225.0,254 L227,254 L227,313 L225.0,313 L225.0,315.0 L223,315.0 L223,317 L165,317 L165,315.0 L163.0,315.0 L163.0,313 L161,313 L161,254 L163.0,254 L163.0,252.0 L165,252.0 Z" fill="#000" stroke="none" stroke-width="1" />
<rect x="171" y="250" width="1" height="3" fill="#fff" />
<rect x="216" y="314" width="1" height="3" fill="#fff" />
<rect x="174" y="250" width="1" height="3" fill="#fff" />
<rect x="213" y="314" width="1" height="3" fill="#fff" />
<rect x="177" y="250" width="1" height="3" fill="#fff" />
<rect x="210" y="314" width="1" height="3" fill="#fff" />
<rect x="189" y="250" width="1" height="3" fill="#fff" />
<rect x="198" y="314" width="1" height="3" fill="#fff" />
<rect x="192" y="250" width="1" height="3" fill="#fff" />
<rect x="195" y="314" width="1" height="3" fill="#fff" />
<rect x="207" y="250" width="1" height="3" fill="#fff" />
<rect x="180" y="314" width="1" height="3" fill="#fff" />
<rect x="210" y="250" width="1" height="3" fill="#fff" />
<rect x="177" y="314" width="1" height="3" fill="#fff" />
<rect x="213" y="250" width="1" height="3" fill="#fff" />
<rect x="174" y="314" width="1" height="3" fill="#fff" />
<rect x="161" y="260" width="3" height="1" fill="#fff" />
<rect x="224" y="306" width="3" height="1" fill="#fff" />
<rect x="161" y="263" width="3" height="1" fill="#fff" />
<rect x="224" y="303" width="3" height="1" fill="#fff" />
<rect x="161" y="266" width="3" height="1" fill="#fff" />
<rect x="224" y="300" width="3" height="1" fill="#fff" />
<rect x="161" y="278" width="3" height="1" fill="#fff" />
<rect x="224" y="288" width="3" height="1" fill="#fff" />
<rect x="161" y="281" width="3" height="1" fill="#fff" />
<rect x="224" y="285" width="3" height="1" fill="#fff" />
<rect x="161" y="296" width="3" height="1" fill="#fff" />
<rect x="224" y="270" width="3" height="1" fill="#fff" />
<rect x="161" y="299" width="3" height="1" fill="#fff" />
<rect x="224" y="267" width="3" height="1" fill="#fff" />
<rect x="161" y="302" width="3" height="1" fill="#fff" />
<rect x="224" y="264" width="3" height="1" fill="#fff" />
<rect x="214.60000000000002" y="304.8" width="4.4" height="4.4" rx="1.3" fill="#fff" shape-rendering="auto"/>
<path d="M246,417 L300,417 L300,420.0 L303.0,420.0 L303.0,423 L306,423 L306,454 L303.0,454 L303.0,457.0 L300,457.0 L300,460 L246,460 L246,457.0 L243.0,457.0 L243.0,454 L240,454 L240,423 L243.0,423 L243.0,420.0 L246,420.0 Z" fill="#000" stroke="none" stroke-width="1" />
<rect x="250" y="417" width="1" height="3" fill="#fff" />
<rect x="295" y="457" width="1" height="3" fill="#fff" />
<rect x="253" y="417" width="1" height="3" fill="#fff" />
<rect x="292" y="457" width="1" height="3" fill="#fff" />
<rect x="256" y="417" width="1" height="3" fill="#fff" />
<rect x="289" y="457" width="1" height="3" fill="#fff" />
<rect x="268" y="417" width="1" height="3" fill="#fff" />
<rect x="277" y="457" width="1" height="3" fill="#fff" />
<rect x="271" y="417" width="1" height="3" fill="#fff" />
<rect x="274" y="457" width="1" height="3" fill="#fff" />
<rect x="286" y="417" width="1" height="3" fill="#fff" />
<rect x="259" y="457" width="1" height="3" fill="#fff" />
<rect x="289" y="417" width="1" height="3" fill="#fff" />
<rect x="256" y="457" width="1" height="3" fill="#fff" />
<rect x="292" y="417" width="1" height="3" fill="#fff" />
<rect x="253" y="457" width="1" height="3" fill="#fff" />
<rect x="240" y="427" width="3" height="1" fill="#fff" />
<rect x="303" y="449" width="3" height="1" fill="#fff" />
<rect x="240" y="430" width="3" height="1" fill="#fff" />
<rect x="303" y="446" width="3" height="1" fill="#fff" />
<rect x="240" y="433" width="3" height="1" fill="#fff" />
<rect x="303" y="443" width="3" height="1" fill="#fff" />
<rect x="240" y="445" width="3" height="1" fill="#fff" />
<rect x="303" y="431" width="3" height="1" fill="#fff" />
<rect x="240" y="448" width="3" height="1" fill="#fff" />
<rect x="303" y="428" width="3" height="1" fill="#fff" />
<rect x="247.3" y="447.8" width="4.4" height="4.4" rx="1.3" fill="#fff" shape-rendering="auto"/>
<path d="M485,406 L543,406 L543,408.0 L545.0,408.0 L545.0,410 L547,410 L547,469 L545.0,469 L545.0,471.0 L543,471.0 L543,473 L485,473 L485,471.0 L483.0,471.0 L483.0,469 L481,469 L481,410 L483.0,410 L483.0,408.0 L485,408.0 Z" fill="#000" stroke="none" stroke-width="1" />
<rect x="491" y="406" width="1" height="3" fill="#fff" />
<rect x="536" y="470" width="1" height="3" fill="#fff" />
<rect x="494" y="406" width="1" height="3" fill="#fff" />
<rect x="533" y="470" width="1" height="3" fill="#fff" />
<rect x="497" y="406" width="1" height="3" fill="#fff" />
<rect x="530" y="470" width="1" height="3" fill="#fff" />
<rect x="509" y="406" width="1" height="3" fill="#fff" />
<rect x="518" y="470" width="1" height="3" fill="#fff" />
<rect x="512" y="406" width="1" height="3" fill="#fff" />
<rect x="515" y="470" width="1" height="3" fill="#fff" />
<rect x="527" y="406" width="1" height="3" fill="#fff" />
<rect x="500" y="470" width="1" height="3" fill="#fff" />
<rect x="530" y="406" width="1" height="3" fill="#fff" />
<rect x="497" y="470" width="1" height="3" fill="#fff" />
<rect x="533" y="406" width="1" height="3" fill="#fff" />
<rect x="494" y="470" width="1" height="3" fill="#fff" />
<rect x="481" y="416" width="3" height="1" fill="#fff" />
<rect x="544" y="462" width="3" height="1" fill="#fff" />
<rect x="481" y="419" width="3" height="1" fill="#fff" />
<rect x="544" y="459" width="3" height="1" fill="#fff" />
<rect x="481" y="422" width="3" height="1" fill="#fff" />
<rect x="544" y="456" width="3" height="1" fill="#fff" />
<rect x="481" y="434" width="3" height="1" fill="#fff" />
<rect x="544" y="444" width="3" height="1" fill="#fff" />
<rect x="481" y="437" width="3" height="1" fill="#fff" />
<rect x="544" y="441" width="3" height="1" fill="#fff" />
<rect x="481" y="452" width="3" height="1" fill="#fff" />
<rect x="544" y="426" width="3" height="1" fill="#fff" />
<rect x="481" y="455" width="3" height="1" fill="#fff" />
<rect x="544" y="423" width="3" height="1" fill="#fff" />
<rect x="481" y="458" width="3" height="1" fill="#fff" />
<rect x="544" y="420" width="3" height="1" fill="#fff" />
<rect x="488.8" y="414.8" width="4.4" height="4.4" rx="1.3" fill="#fff" shape-rendering="auto"/>
<path d="M305,219 H384 V299 H309 L305,295 Z" fill="#000" stroke="none" stroke-width="1" />
<rect x="308" y="222" width="3" height="3" fill="#fff" />
<rect x="314" y="222" width="3" height="3" fill="#fff" />
<rect x="320" y="222" width="3" height="3" fill="#fff" />
<rect x="326" y="222" width="3" height="3" fill="#fff" />
<rect x="331" y="222" width="3" height="3" fill="#fff" />
<rect x="337" y="222" width="3" height="3" fill="#fff" />
<rect x="343" y="222" width="3" height="3" fill="#fff" />
<rect x="349" y="222" width="3" height="3" fill="#fff" />
<rect x="355" y="222" width="3" height="3" fill="#fff" />
<rect x="361" y="222" width="3" height="3" fill="#fff" />
<rect x="366" y="222" width="3" height="3" fill="#fff" />
<rect x="372" y="222" width="3" height="3" fill="#fff" />
<rect x="378" y="222" width="3" height="3" fill="#fff" />
<rect x="308" y="228" width="3" height="3" fill="#fff" />
<rect x="314" y="228" width="3" height="3" fill="#fff" />
<rect x="320" y="228" width="3" height="3" fill="#fff" />
<rect x="326" y="228" width="3" height="3" fill="#fff" />
<rect x="331" y="228" width="3" height="3" fill="#fff" />
<rect x="337" y="228" width="3" height="3" fill="#fff" />
<rect x="343" y="228" width="3" height="3" fill="#fff" />
<rect x="349" y="228" width="3" height="3" fill="#fff" />
<rect x="355" y="228" width="3" height="3" fill="#fff" />
<rect x="361" y="228" width="3" height="3" fill="#fff" />
<rect x="366" y="228" width="3" height="3" fill="#fff" />
<rect x="372" y="228" width="3" height="3" fill="#fff" />
<rect x="378" y="228" width="3" height="3" fill="#fff" />
<rect x="308" y="234" width="3" height="3" fill="#fff" />
<rect x="314" y="234" width="3" height="3" fill="#fff" />
<rect x="320" y="234" width="3" height="3" fill="#fff" />
<rect x="326" y="234" width="3" height="3" fill="#fff" />
<rect x="331" y="234" width="3" height="3" fill="#fff" />
<rect x="337" y="234" width="3" height="3" fill="#fff" />
<rect x="343" y="234" width="3" height="3" fill="#fff" />
<rect x="349" y="234" width="3" height="3" fill="#fff" />
<rect x="355" y="234" width="3" height="3" fill="#fff" />
<rect x="361" y="234" width="3" height="3" fill="#fff" />
<rect x="366" y="234" width="3" height="3" fill="#fff" />
<rect x="372" y="234" width="3" height="3" fill="#fff" />
<rect x="378" y="234" width="3" height="3" fill="#fff" />
<rect x="308" y="240" width="3" height="3" fill="#fff" />
<rect x="314" y="240" width="3" height="3" fill="#fff" />
<rect x="320" y="240" width="3" height="3" fill="#fff" />
<rect x="366" y="240" width="3" height="3" fill="#fff" />
<rect x="372" y="240" width="3" height="3" fill="#fff" />
<rect x="378" y="240" width="3" height="3" fill="#fff" />
<rect x="308" y="246" width="3" height="3" fill="#fff" />
<rect x="314" y="246" width="3" height="3" fill="#fff" />
<rect x="320" y="246" width="3" height="3" fill="#fff" />
<rect x="366" y="246" width="3" height="3" fill="#fff" />
<rect x="372" y="246" width="3" height="3" fill="#fff" />
<rect x="378" y="246" width="3" height="3" fill="#fff" />
<rect x="308" y="252" width="3" height="3" fill="#fff" />
<rect x="314" y="252" width="3" height="3" fill="#fff" />
<rect x="320" y="252" width="3" height="3" fill="#fff" />
<rect x="366" y="252" width="3" height="3" fill="#fff" />
<rect x="372" y="252" width="3" height="3" fill="#fff" />
<rect x="378" y="252" width="3" height="3" fill="#fff" />
<rect x="308" y="258" width="3" height="3" fill="#fff" />
<rect x="314" y="258" width="3" height="3" fill="#fff" />
<rect x="320" y="258" width="3" height="3" fill="#fff" />
<rect x="366" y="258" width="3" height="3" fill="#fff" />
<rect x="372" y="258" width="3" height="3" fill="#fff" />
<rect x="378" y="258" width="3" height="3" fill="#fff" />
<rect x="308" y="264" width="3" height="3" fill="#fff" />
<rect x="314" y="264" width="3" height="3" fill="#fff" />
<rect x="320" y="264" width="3" height="3" fill="#fff" />
<rect x="366" y="264" width="3" height="3" fill="#fff" />
<rect x="372" y="264" width="3" height="3" fill="#fff" />
<rect x="378" y="264" width="3" height="3" fill="#fff" />
<rect x="308" y="270" width="3" height="3" fill="#fff" />
<rect x="314" y="270" width="3" height="3" fill="#fff" />
<rect x="320" y="270" width="3" height="3" fill="#fff" />
<rect x="366" y="270" width="3" height="3" fill="#fff" />
<rect x="372" y="270" width="3" height="3" fill="#fff" />
<rect x="378" y="270" width="3" height="3" fill="#fff" />
<rect x="308" y="276" width="3" height="3" fill="#fff" />
<rect x="314" y="276" width="3" height="3" fill="#fff" />
<rect x="320" y="276" width="3" height="3" fill="#fff" />
<rect x="366" y="276" width="3" height="3" fill="#fff" />
<rect x="372" y="276" width="3" height="3" fill="#fff" />
<rect x="378" y="276" width="3" height="3" fill="#fff" />
<rect x="308" y="282" width="3" height="3" fill="#fff" />
<rect x="314" y="282" width="3" height="3" fill="#fff" />
<rect x="320" y="282" width="3" height="3" fill="#fff" />
<rect x="326" y="282" width="3" height="3" fill="#fff" />
<rect x="331" y="282" width="3" height="3" fill="#fff" />
<rect x="337" y="282" width="3" height="3" fill="#fff" />
<rect x="343" y="282" width="3" height="3" fill="#fff" />
<rect x="349" y="282" width="3" height="3" fill="#fff" />
<rect x="355" y="282" width="3" height="3" fill="#fff" />
<rect x="361" y="282" width="3" height="3" fill="#fff" />
<rect x="366" y="282" width="3" height="3" fill="#fff" />
<rect x="372" y="282" width="3" height="3" fill="#fff" />
<rect x="378" y="282" width="3" height="3" fill="#fff" />
<rect x="308" y="287" width="3" height="3" fill="#fff" />
<rect x="314" y="287" width="3" height="3" fill="#fff" />
<rect x="320" y="287" width="3" height="3" fill="#fff" />
<rect x="326" y="287" width="3" height="3" fill="#fff" />
<rect x="331" y="287" width="3" height="3" fill="#fff" />
<rect x="337" y="287" width="3" height="3" fill="#fff" />
<rect x="343" y="287" width="3" height="3" fill="#fff" />
<rect x="349" y="287" width="3" height="3" fill="#fff" />
<rect x="355" y="287" width="3" height="3" fill="#fff" />
<rect x="361" y="287" width="3" height="3" fill="#fff" />
<rect x="366" y="287" width="3" height="3" fill="#fff" />
<rect x="372" y="287" width="3" height="3" fill="#fff" />
<rect x="378" y="287" width="3" height="3" fill="#fff" />
<rect x="308" y="293" width="3" height="3" fill="#fff" />
<rect x="314" y="293" width="3" height="3" fill="#fff" />
<rect x="320" y="293" width="3" height="3" fill="#fff" />
<rect x="326" y="293" width="3" height="3" fill="#fff" />
<rect x="331" y="293" width="3" height="3" fill="#fff" />
<rect x="337" y="293" width="3" height="3" fill="#fff" />
<rect x="343" y="293" width="3" height="3" fill="#fff" />
<rect x="349" y="293" width="3" height="3" fill="#fff" />
<rect x="355" y="293" width="3" height="3" fill="#fff" />
<rect x="361" y="293" width="3" height="3" fill="#fff" />
<rect x="366" y="293" width="3" height="3" fill="#fff" />
<rect x="372" y="293" width="3" height="3" fill="#fff" />
<rect x="378" y="293" width="3" height="3" fill="#fff" />
<rect x="327" y="242" width="35" height="34" fill="#fff" />
<rect x="329.4" y="251" width="30.4" height="16.5" rx="3" fill="#fff" stroke="#000" stroke-width="2" shape-rendering="auto"/>
<circle cx="331.2" cy="272.3" r="2.6" fill="#000" shape-rendering="auto"/>
<path d="M318,421 H393 V490 L387,496 H318 Z" fill="#000" stroke="none" stroke-width="1" />
<rect x="342" y="452" width="28" height="14" fill="#fff" />
<circle cx="385.2" cy="488.4" r="3.2" fill="#fff" shape-rendering="auto"/>
<rect x="609" y="348" width="127" height="42" fill="#000" />
<path d="M737,356 L735,358 Q733.5,369 735,380 L737,382.5 Z" fill="#fff" stroke="none" stroke-width="1" shape-rendering="auto"/>
<rect x="658" y="362" width="28" height="14" fill="#fff" />
<path d="M757.5,377 L758.5,375.5 Q762.5,372 766.5,375.5 L773.5,375.5 Q777.5,372 781.5,375.5 L788.5,375.5 Q792.5,372 796.5,375.5 L797.5,377 V397 L796.5,398.5 Q792.5,402 788.5,398.5 L781.5,398.5 Q777.5,402 773.5,398.5 L766.5,398.5 Q762.5,402 758.5,398.5 L757.5,397 Z" fill="#fff" stroke="#000" stroke-width="1" shape-rendering="auto"/>
<rect x="43" y="408" width="84" height="25" fill="#000" />
<rect x="45" y="410" width="4" height="5" fill="#fff" />
<rect x="45" y="426" width="4" height="5" fill="#fff" />
<rect x="51" y="410" width="3" height="5" fill="#fff" />
<rect x="51" y="426" width="3" height="5" fill="#fff" />
<rect x="57" y="410" width="3" height="5" fill="#fff" />
<rect x="57" y="426" width="3" height="5" fill="#fff" />
<rect x="63" y="410" width="3" height="5" fill="#fff" />
<rect x="63" y="426" width="3" height="5" fill="#fff" />
<rect x="69" y="410" width="3" height="5" fill="#fff" />
<rect x="69" y="426" width="3" height="5" fill="#fff" />
<rect x="75" y="410" width="3" height="5" fill="#fff" />
<rect x="75" y="426" width="3" height="5" fill="#fff" />
<rect x="81" y="410" width="3" height="5" fill="#fff" />
<rect x="81" y="426" width="3" height="5" fill="#fff" />
<rect x="87" y="410" width="3" height="5" fill="#fff" />
<rect x="87" y="426" width="3" height="5" fill="#fff" />
<rect x="93" y="410" width="3" height="5" fill="#fff" />
<rect x="93" y="426" width="3" height="5" fill="#fff" />
<rect x="99" y="410" width="3" height="5" fill="#fff" />
<rect x="99" y="426" width="3" height="5" fill="#fff" />
<rect x="105" y="410" width="3" height="5" fill="#fff" />
<rect x="105" y="426" width="3" height="5" fill="#fff" />
<rect x="111" y="410" width="3" height="5" fill="#fff" />
<rect x="111" y="426" width="3" height="5" fill="#fff" />
<rect x="117" y="410" width="3" height="5" fill="#fff" />
<rect x="117" y="426" width="3" height="5" fill="#fff" />
<rect x="123" y="410" width="3" height="5" fill="#fff" />
<rect x="123" y="426" width="3" height="5" fill="#fff" />
<rect x="50" y="418" width="34" height="5" fill="#fff" />
<rect x="89" y="418" width="34" height="5" fill="#fff" />
<path d="M43,418 l3,2.5 l-3,2.5 Z" fill="#fff" stroke="none" stroke-width="1" />
<rect x="43" y="434" width="84" height="26" fill="#000" />
<rect x="45" y="436" width="4" height="5" fill="#fff" />
<rect x="45" y="453" width="4" height="5" fill="#fff" />
<rect x="51" y="436" width="3" height="5" fill="#fff" />
<rect x="51" y="453" width="3" height="5" fill="#fff" />
<rect x="57" y="436" width="3" height="5" fill="#fff" />
<rect x="57" y="453" width="3" height="5" fill="#fff" />
<rect x="63" y="436" width="3" height="5" fill="#fff" />
<rect x="63" y="453" width="3" height="5" fill="#fff" />
<rect x="69" y="436" width="3" height="5" fill="#fff" />
<rect x="69" y="453" width="3" height="5" fill="#fff" />
<rect x="75" y="436" width="3" height="5" fill="#fff" />
<rect x="75" y="453" width="3" height="5" fill="#fff" />
<rect x="81" y="436" width="3" height="5" fill="#fff" />
<rect x="81" y="453" width="3" height="5" fill="#fff" />
<rect x="87" y="436" width="3" height="5" fill="#fff" />
<rect x="87" y="453" width="3" height="5" fill="#fff" />
<rect x="93" y="436" width="3" height="5" fill="#fff" />
<rect x="93" y="453" width="3" height="5" fill="#fff" />
<rect x="99" y="436" width="3" height="5" fill="#fff" />
<rect x="99" y="453" width="3" height="5" fill="#fff" />
<rect x="105" y="436" width="3" height="5" fill="#fff" />
<rect x="105" y="453" width="3" height="5" fill="#fff" />
<rect x="111" y="436" width="3" height="5" fill="#fff" />
<rect x="111" y="453" width="3" height="5" fill="#fff" />
<rect x="117" y="436" width="3" height="5" fill="#fff" />
<rect x="117" y="453" width="3" height="5" fill="#fff" />
<rect x="123" y="436" width="3" height="5" fill="#fff" />
<rect x="123" y="453" width="3" height="5" fill="#fff" />
<rect x="50" y="444" width="34" height="5" fill="#fff" />
<rect x="89" y="444" width="34" height="5" fill="#fff" />
<path d="M43,444 l3,2.5 l-3,2.5 Z" fill="#fff" stroke="none" stroke-width="1" />
<rect x="43" y="461" width="84" height="24" fill="#000" />
<rect x="45" y="463" width="4" height="5" fill="#fff" />
<rect x="45" y="478" width="4" height="5" fill="#fff" />
<rect x="51" y="463" width="3" height="5" fill="#fff" />
<rect x="51" y="478" width="3" height="5" fill="#fff" />
<rect x="57" y="463" width="3" height="5" fill="#fff" />
<rect x="57" y="478" width="3" height="5" fill="#fff" />
<rect x="63" y="463" width="3" height="5" fill="#fff" />
<rect x="63" y="478" width="3" height="5" fill="#fff" />
<rect x="69" y="463" width="3" height="5" fill="#fff" />
<rect x="69" y="478" width="3" height="5" fill="#fff" />
<rect x="75" y="463" width="3" height="5" fill="#fff" />
<rect x="75" y="478" width="3" height="5" fill="#fff" />
<rect x="81" y="463" width="3" height="5" fill="#fff" />
<rect x="81" y="478" width="3" height="5" fill="#fff" />
<rect x="87" y="463" width="3" height="5" fill="#fff" />
<rect x="87" y="478" width="3" height="5" fill="#fff" />
<rect x="93" y="463" width="3" height="5" fill="#fff" />
<rect x="93" y="478" width="3" height="5" fill="#fff" />
<rect x="99" y="463" width="3" height="5" fill="#fff" />
<rect x="99" y="478" width="3" height="5" fill="#fff" />
<rect x="105" y="463" width="3" height="5" fill="#fff" />
<rect x="105" y="478" width="3" height="5" fill="#fff" />
<rect x="111" y="463" width="3" height="5" fill="#fff" />
<rect x="111" y="478" width="3" height="5" fill="#fff" />
<rect x="117" y="463" width="3" height="5" fill="#fff" />
<rect x="117" y="478" width="3" height="5" fill="#fff" />
<rect x="123" y="463" width="3" height="5" fill="#fff" />
<rect x="123" y="478" width="3" height="5" fill="#fff" />
<rect x="50" y="470" width="34" height="5" fill="#fff" />
<rect x="89" y="470" width="34" height="5" fill="#fff" />
<path d="M43,470 l3,2.5 l-3,2.5 Z" fill="#fff" stroke="none" stroke-width="1" />
<rect x="43" y="487" width="84" height="24" fill="#000" />
<rect x="45" y="489" width="4" height="5" fill="#fff" />
<rect x="45" y="504" width="4" height="5" fill="#fff" />
<rect x="51" y="489" width="3" height="5" fill="#fff" />
<rect x="51" y="504" width="3" height="5" fill="#fff" />
<rect x="57" y="489" width="3" height="5" fill="#fff" />
<rect x="57" y="504" width="3" height="5" fill="#fff" />
<rect x="63" y="489" width="3" height="5" fill="#fff" />
<rect x="63" y="504" width="3" height="5" fill="#fff" />
<rect x="69" y="489" width="3" height="5" fill="#fff" />
<rect x="69" y="504" width="3" height="5" fill="#fff" />
<rect x="75" y="489" width="3" height="5" fill="#fff" />
<rect x="75" y="504" width="3" height="5" fill="#fff" />
<rect x="81" y="489" width="3" height="5" fill="#fff" />
<rect x="81" y="504" width="3" height="5" fill="#fff" />
<rect x="87" y="489" width="3" height="5" fill="#fff" />
<rect x="87" y="504" width="3" height="5" fill="#fff" />
<rect x="93" y="489" width="3" height="5" fill="#fff" />
<rect x="93" y="504" width="3" height="5" fill="#fff" />
<rect x="99" y="489" width="3" height="5" fill="#fff" />
<rect x="99" y="504" width="3" height="5" fill="#fff" />
<rect x="105" y="489" width="3" height="5" fill="#fff" />
<rect x="105" y="504" width="3" height="5" fill="#fff" />
<rect x="111" y="489" width="3" height="5" fill="#fff" />
<rect x="111" y="504" width="3" height="5" fill="#fff" />
<rect x="117" y="489" width="3" height="5" fill="#fff" />
<rect x="117" y="504" width="3" height="5" fill="#fff" />
<rect x="123" y="489" width="3" height="5" fill="#fff" />
<rect x="123" y="504" width="3" height="5" fill="#fff" />
<rect x="50" y="496" width="34" height="5" fill="#fff" />
<rect x="89" y="496" width="34" height="5" fill="#fff" />
<path d="M43,496 l3,2.5 l-3,2.5 Z" fill="#fff" stroke="none" stroke-width="1" />
<rect x="43" y="433" width="84" height="1" fill="#fff" />
<rect x="43" y="460" width="84" height="1" fill="#fff" />
<rect x="133" y="420" width="84" height="24" fill="#000" />
<rect x="135" y="422" width="4" height="5" fill="#fff" />
<rect x="135" y="437" width="4" height="5" fill="#fff" />
<rect x="141" y="422" width="3" height="5" fill="#fff" />
<rect x="141" y="437" width="3" height="5" fill="#fff" />
<rect x="147" y="422" width="3" height="5" fill="#fff" />
<rect x="147" y="437" width="3" height="5" fill="#fff" />
<rect x="153" y="422" width="3" height="5" fill="#fff" />
<rect x="153" y="437" width="3" height="5" fill="#fff" />
<rect x="159" y="422" width="3" height="5" fill="#fff" />
<rect x="159" y="437" width="3" height="5" fill="#fff" />
<rect x="165" y="422" width="3" height="5" fill="#fff" />
<rect x="165" y="437" width="3" height="5" fill="#fff" />
<rect x="171" y="422" width="3" height="5" fill="#fff" />
<rect x="171" y="437" width="3" height="5" fill="#fff" />
<rect x="177" y="422" width="3" height="5" fill="#fff" />
<rect x="177" y="437" width="3" height="5" fill="#fff" />
<rect x="183" y="422" width="3" height="5" fill="#fff" />
<rect x="183" y="437" width="3" height="5" fill="#fff" />
<rect x="189" y="422" width="3" height="5" fill="#fff" />
<rect x="189" y="437" width="3" height="5" fill="#fff" />
<rect x="195" y="422" width="3" height="5" fill="#fff" />
<rect x="195" y="437" width="3" height="5" fill="#fff" />
<rect x="201" y="422" width="3" height="5" fill="#fff" />
<rect x="201" y="437" width="3" height="5" fill="#fff" />
<rect x="207" y="422" width="3" height="5" fill="#fff" />
<rect x="207" y="437" width="3" height="5" fill="#fff" />
<rect x="213" y="422" width="3" height="5" fill="#fff" />
<rect x="213" y="437" width="3" height="5" fill="#fff" />
<rect x="140" y="429" width="34" height="5" fill="#fff" />
<rect x="179" y="429" width="34" height="5" fill="#fff" />
<path d="M133,429 l3,2.5 l-3,2.5 Z" fill="#fff" stroke="none" stroke-width="1" />
<rect x="133" y="446" width="84" height="25" fill="#000" />
<rect x="135" y="448" width="4" height="5" fill="#fff" />
<rect x="135" y="464" width="4" height="5" fill="#fff" />
<rect x="141" y="448" width="3" height="5" fill="#fff" />
<rect x="141" y="464" width="3" height="5" fill="#fff" />
<rect x="147" y="448" width="3" height="5" fill="#fff" />
<rect x="147" y="464" width="3" height="5" fill="#fff" />
<rect x="153" y="448" width="3" height="5" fill="#fff" />
<rect x="153" y="464" width="3" height="5" fill="#fff" />
<rect x="159" y="448" width="3" height="5" fill="#fff" />
<rect x="159" y="464" width="3" height="5" fill="#fff" />
<rect x="165" y="448" width="3" height="5" fill="#fff" />
<rect x="165" y="464" width="3" height="5" fill="#fff" />
<rect x="171" y="448" width="3" height="5" fill="#fff" />
<rect x="171" y="464" width="3" height="5" fill="#fff" />
<rect x="177" y="448" width="3" height="5" fill="#fff" />
<rect x="177" y="464" width="3" height="5" fill="#fff" />
<rect x="183" y="448" width="3" height="5" fill="#fff" />
<rect x="183" y="464" width="3" height="5" fill="#fff" />
<rect x="189" y="448" width="3" height="5" fill="#fff" />
<rect x="189" y="464" width="3" height="5" fill="#fff" />
<rect x="195" y="448" width="3" height="5" fill="#fff" />
<rect x="195" y="464" width="3" height="5" fill="#fff" />
<rect x="201" y="448" width="3" height="5" fill="#fff" />
<rect x="201" y="464" width="3" height="5" fill="#fff" />
<rect x="207" y="448" width="3" height="5" fill="#fff" />
<rect x="207" y="464" width="3" height="5" fill="#fff" />
<rect x="213" y="448" width="3" height="5" fill="#fff" />
<rect x="213" y="464" width="3" height="5" fill="#fff" />
<rect x="140" y="456" width="34" height="5" fill="#fff" />
<rect x="179" y="456" width="34" height="5" fill="#fff" />
<path d="M133,456 l3,2.5 l-3,2.5 Z" fill="#fff" stroke="none" stroke-width="1" />
<rect x="133" y="472" width="84" height="26" fill="#000" />
<rect x="135" y="474" width="4" height="5" fill="#fff" />
<rect x="135" y="491" width="4" height="5" fill="#fff" />
<rect x="141" y="474" width="3" height="5" fill="#fff" />
<rect x="141" y="491" width="3" height="5" fill="#fff" />
<rect x="147" y="474" width="3" height="5" fill="#fff" />
<rect x="147" y="491" width="3" height="5" fill="#fff" />
<rect x="153" y="474" width="3" height="5" fill="#fff" />
<rect x="153" y="491" width="3" height="5" fill="#fff" />
<rect x="159" y="474" width="3" height="5" fill="#fff" />
<rect x="159" y="491" width="3" height="5" fill="#fff" />
<rect x="165" y="474" width="3" height="5" fill="#fff" />
<rect x="165" y="491" width="3" height="5" fill="#fff" />
<rect x="171" y="474" width="3" height="5" fill="#fff" />
<rect x="171" y="491" width="3" height="5" fill="#fff" />
<rect x="177" y="474" width="3" height="5" fill="#fff" />
<rect x="177" y="491" width="3" height="5" fill="#fff" />
<rect x="183" y="474" width="3" height="5" fill="#fff" />
<rect x="183" y="491" width="3" height="5" fill="#fff" />
<rect x="189" y="474" width="3" height="5" fill="#fff" />
<rect x="189" y="491" width="3" height="5" fill="#fff" />
<rect x="195" y="474" width="3" height="5" fill="#fff" />
<rect x="195" y="491" width="3" height="5" fill="#fff" />
<rect x="201" y="474" width="3" height="5" fill="#fff" />
<rect x="201" y="491" width="3" height="5" fill="#fff" />
<rect x="207" y="474" width="3" height="5" fill="#fff" />
<rect x="207" y="491" width="3" height="5" fill="#fff" />
<rect x="213" y="474" width="3" height="5" fill="#fff" />
<rect x="213" y="491" width="3" height="5" fill="#fff" />
<rect x="140" y="482" width="34" height="5" fill="#fff" />
<rect x="179" y="482" width="34" height="5" fill="#fff" />
<path d="M133,482 l3,2.5 l-3,2.5 Z" fill="#fff" stroke="none" stroke-width="1" />
<rect x="133" y="499" width="84" height="23" fill="#000" />
<rect x="135" y="501" width="4" height="5" fill="#fff" />
<rect x="135" y="515" width="4" height="5" fill="#fff" />
<rect x="141" y="501" width="3" height="5" fill="#fff" />
<rect x="141" y="515" width="3" height="5" fill="#fff" />
<rect x="147" y="501" width="3" height="5" fill="#fff" />
<rect x="147" y="515" width="3" height="5" fill="#fff" />
<rect x="153" y="501" width="3" height="5" fill="#fff" />
<rect x="153" y="515" width="3" height="5" fill="#fff" />
<rect x="159" y="501" width="3" height="5" fill="#fff" />
<rect x="159" y="515" width="3" height="5" fill="#fff" />
<rect x="165" y="501" width="3" height="5" fill="#fff" />
<rect x="165" y="515" width="3" height="5" fill="#fff" />
<rect x="171" y="501" width="3" height="5" fill="#fff" />
<rect x="171" y="515" width="3" height="5" fill="#fff" />
<rect x="177" y="501" width="3" height="5" fill="#fff" />
<rect x="177" y="515" width="3" height="5" fill="#fff" />
<rect x="183" y="501" width="3" height="5" fill="#fff" />
<rect x="183" y="515" width="3" height="5" fill="#fff" />
<rect x="189" y="501" width="3" height="5" fill="#fff" />
<rect x="189" y="515" width="3" height="5" fill="#fff" />
<rect x="195" y="501" width="3" height="5" fill="#fff" />
<rect x="195" y="515" width="3" height="5" fill="#fff" />
<rect x="201" y="501" width="3" height="5" fill="#fff" />
<rect x="201" y="515" width="3" height="5" fill="#fff" />
<rect x="207" y="501" width="3" height="5" fill="#fff" />
<rect x="207" y="515" width="3" height="5" fill="#fff" />
<rect x="213" y="501" width="3" height="5" fill="#fff" />
<rect x="213" y="515" width="3" height="5" fill="#fff" />
<rect x="140" y="508" width="34" height="5" fill="#fff" />
<rect x="179" y="508" width="34" height="5" fill="#fff" />
<path d="M133,508 l3,2.5 l-3,2.5 Z" fill="#fff" stroke="none" stroke-width="1" />
<rect x="133" y="362" width="72" height="25" fill="#000" />
<rect x="135" y="364" width="3" height="5" fill="#fff" />
<rect x="135" y="380" width="3" height="5" fill="#fff" />
<rect x="140" y="364" width="4" height="5" fill="#fff" />
<rect x="140" y="380" width="4" height="5" fill="#fff" />
<rect x="146" y="364" width="3" height="5" fill="#fff" />
<rect x="146" y="380" width="3" height="5" fill="#fff" />
<rect x="187" y="364" width="3" height="5" fill="#fff" />
<rect x="187" y="380" width="3" height="5" fill="#fff" />
<rect x="192" y="364" width="4" height="5" fill="#fff" />
<rect x="192" y="380" width="4" height="5" fill="#fff" />
<rect x="198" y="364" width="4" height="5" fill="#fff" />
<rect x="198" y="380" width="4" height="5" fill="#fff" />
<rect x="136" y="372" width="16" height="5" fill="#fff" />
<rect x="185" y="372" width="12" height="5" fill="#fff" />
<path d="M205,372 l-3,2.5 l3,2.5 Z" fill="#fff" stroke="none" stroke-width="1" />
<rect x="151.5" y="364.5" width="32" height="20" rx="2" fill="#000" stroke="#fff" stroke-width="1" stroke-dasharray="3 2.5"/>
<rect x="154" y="367" width="29" height="14" rx="2" fill="#fff" shape-rendering="auto"/>
<rect x="133" y="391" width="72" height="25" fill="#000" />
<rect x="135" y="393" width="3" height="5" fill="#fff" />
<rect x="135" y="409" width="3" height="5" fill="#fff" />
<rect x="140" y="393" width="4" height="5" fill="#fff" />
<rect x="140" y="409" width="4" height="5" fill="#fff" />
<rect x="146" y="393" width="3" height="5" fill="#fff" />
<rect x="146" y="409" width="3" height="5" fill="#fff" />
<rect x="187" y="393" width="3" height="5" fill="#fff" />
<rect x="187" y="409" width="3" height="5" fill="#fff" />
<rect x="192" y="393" width="4" height="5" fill="#fff" />
<rect x="192" y="409" width="4" height="5" fill="#fff" />
<rect x="198" y="393" width="4" height="5" fill="#fff" />
<rect x="198" y="409" width="4" height="5" fill="#fff" />
<rect x="136" y="401" width="16" height="5" fill="#fff" />
<rect x="185" y="401" width="12" height="5" fill="#fff" />
<path d="M205,401 l-3,2.5 l3,2.5 Z" fill="#fff" stroke="none" stroke-width="1" />
<rect x="151.5" y="393.5" width="32" height="20" rx="2" fill="#000" stroke="#fff" stroke-width="1" stroke-dasharray="3 2.5"/>
<rect x="154" y="396" width="29" height="14" rx="2" fill="#fff" shape-rendering="auto"/>
<rect x="55" y="18" width="7" height="26" fill="#000" />
<rect x="56" y="19" width="5" height="6" fill="#fff" />
<rect x="57" y="20" width="3" height="4" fill="#000" />
<rect x="58" y="21" width="1" height="2" fill="#fff" />
<rect x="56" y="30" width="5" height="1" fill="#fff" />
<rect x="56" y="36" width="5" height="1" fill="#fff" />
<rect x="56" y="41" width="5" height="2" fill="#fff" />
<rect x="55" y="48" width="7" height="14" fill="#000" />
<rect x="56" y="49" width="5" height="12" fill="#fff" />
<rect x="56" y="50" width="4" height="10" fill="#000" />
<rect x="57" y="54" width="3" height="1" fill="#fff" />
<rect x="65" y="48" width="7" height="14" fill="#000" />
<rect x="66" y="49" width="5" height="3" fill="#fff" />
<rect x="66" y="54" width="5" height="2" fill="#fff" />
<rect x="66" y="60" width="5" height="1" fill="#fff" />
<rect x="53" y="128" width="7" height="26" fill="#000" />
<rect x="54" y="129" width="5" height="24" fill="#fff" />
<rect x="55" y="129" width="4" height="23" fill="#000" />
<rect x="56" y="131" width="2" height="2" fill="#fff" />
<rect x="55" y="134" width="4" height="1" fill="#fff" />
<rect x="55" y="140" width="4" height="1" fill="#fff" />
<rect x="55" y="146" width="4" height="1" fill="#fff" />
<rect x="64" y="128" width="6" height="31" fill="#000" />
<rect x="66" y="130" width="3" height="3" fill="#fff" />
<rect x="65" y="134" width="4" height="1" fill="#fff" />
<rect x="65" y="140" width="4" height="1" fill="#fff" />
<rect x="65" y="145" width="4" height="2" fill="#fff" />
<rect x="65" y="151" width="4" height="2" fill="#fff" />
<rect x="65" y="157" width="4" height="1" fill="#fff" />
<rect x="65" y="327" width="6" height="19" fill="#000" />
<rect x="66" y="328" width="4" height="6" fill="#fff" />
<rect x="67" y="329" width="2" height="4" fill="#000" />
<rect x="68" y="330" width="0" height="2" fill="#fff" />
<rect x="66" y="339" width="4" height="1" fill="#fff" />
<rect x="73" y="327" width="7" height="19" fill="#000" />
<rect x="74" y="328" width="5" height="6" fill="#fff" />
<rect x="75" y="329" width="3" height="4" fill="#000" />
<rect x="76" y="330" width="1" height="2" fill="#fff" />
<rect x="74" y="334" width="5" height="11" fill="#fff" />
<rect x="75" y="333" width="1" height="12" fill="#000" />
<rect x="75" y="333" width="4" height="1" fill="#000" />
<rect x="75" y="339" width="4" height="1" fill="#000" />
<rect x="82" y="327" width="7" height="19" fill="#000" />
<rect x="83" y="328" width="5" height="6" fill="#fff" />
<rect x="84" y="329" width="3" height="4" fill="#000" />
<rect x="85" y="330" width="1" height="2" fill="#fff" />
<rect x="83" y="339" width="5" height="1" fill="#fff" />
<rect x="87" y="334" width="1" height="11" fill="#fff" />
<rect x="86" y="333" width="2" height="1" fill="#000" />
<rect x="86" y="339" width="2" height="1" fill="#000" />
<rect x="64" y="350" width="7" height="20" fill="#000" />
<rect x="65" y="351" width="5" height="6" fill="#fff" />
<rect x="66" y="352" width="3" height="4" fill="#000" />
<rect x="67" y="353" width="1" height="2" fill="#fff" />
<rect x="65" y="357" width="5" height="1" fill="#fff" />
<rect x="65" y="363" width="5" height="1" fill="#fff" />
<rect x="72" y="350" width="7" height="20" fill="#000" />
<rect x="73" y="351" width="5" height="6" fill="#fff" />
<rect x="74" y="352" width="3" height="4" fill="#000" />
<rect x="75" y="353" width="1" height="2" fill="#fff" />
<rect x="73" y="357" width="5" height="12" fill="#fff" />
<rect x="74" y="357" width="1" height="12" fill="#000" />
<rect x="74" y="357" width="4" height="1" fill="#000" />
<rect x="74" y="363" width="4" height="1" fill="#000" />
<rect x="82" y="356" width="7" height="14" fill="#000" />
<rect x="83" y="357" width="5" height="1" fill="#fff" />
<rect x="83" y="362" width="5" height="1" fill="#fff" />
<rect x="83" y="368" width="5" height="1" fill="#fff" />
<rect x="87" y="357" width="1" height="12" fill="#fff" />
<rect x="652" y="435" width="19" height="7" fill="#000" />
<rect x="663" y="436" width="7" height="5" fill="#fff" />
<rect x="664" y="437" width="5" height="3" fill="#000" />
<rect x="665" y="438" width="3" height="1" fill="#fff" />
<rect x="658" y="436" width="1" height="5" fill="#fff" />
<rect x="744" y="414" width="14" height="7" fill="#000" />
<rect x="745" y="415" width="12" height="5" fill="#fff" />
<rect x="746" y="416" width="5" height="4" fill="#000" />
<rect x="752" y="416" width="5" height="4" fill="#000" />
<rect x="744" y="423" width="26" height="7" fill="#000" />
<rect x="745" y="424" width="24" height="5" fill="#fff" />
<rect x="746" y="424" width="16" height="4" fill="#000" />
<rect x="751" y="424" width="1" height="4" fill="#fff" />
<rect x="757" y="424" width="1" height="4" fill="#fff" />
<rect x="764" y="424" width="5" height="4" fill="#000" />
<rect x="765" y="425" width="3" height="2" fill="#fff" />
<path d="M785,420 H809 V416 H812 V412 H816 V464 H812 V462 H809 V457 H785 Z" fill="#000" stroke="none" stroke-width="1" />
<rect x="778" y="429" width="7" height="8" fill="#000" />
<rect x="779" y="430" width="5" height="6" fill="#fff" />
<rect x="778" y="440" width="7" height="9" fill="#000" />
<rect x="779" y="441" width="5" height="7" fill="#fff" />
<rect x="782" y="426" width="3" height="25" fill="#fff" />
<rect x="782" y="426" width="1" height="25" fill="#000" />
<rect x="783" y="437" width="2" height="3" fill="#000" />
<rect x="782" y="426" width="3" height="1" fill="#000" />
<rect x="782" y="450" width="3" height="1" fill="#000" />
<rect x="783" y="428" width="2" height="1" fill="#000" />
<rect x="783" y="430" width="2" height="1" fill="#000" />
<rect x="783" y="432" width="2" height="1" fill="#000" />
<rect x="783" y="434" width="2" height="1" fill="#000" />
<rect x="783" y="441" width="2" height="1" fill="#000" />
<rect x="783" y="443" width="2" height="1" fill="#000" />
<rect x="783" y="445" width="2" height="1" fill="#000" />
<rect x="783" y="447" width="2" height="1" fill="#000" />
<rect x="670" y="492" width="112" height="25" fill="#000" />
<rect x="671" y="493" width="110" height="23" fill="#fff" />
<rect x="670" y="507" width="112" height="1" fill="#000" />
<rect x="675" y="495" width="8" height="8" fill="#000" />
<rect x="676" y="496" width="6" height="6" fill="#fff" />
<rect x="686" y="495" width="7" height="8" fill="#000" />
<rect x="687" y="496" width="5" height="6" fill="#fff" />
<rect x="695" y="495" width="7" height="8" fill="#000" />
<rect x="696" y="496" width="5" height="6" fill="#fff" />
<rect x="704" y="495" width="7" height="8" fill="#000" />
<rect x="705" y="496" width="5" height="6" fill="#fff" />
<rect x="713" y="495" width="7" height="8" fill="#000" />
<rect x="714" y="496" width="5" height="6" fill="#fff" />
<rect x="722" y="495" width="7" height="8" fill="#000" />
<rect x="723" y="496" width="5" height="6" fill="#fff" />
<rect x="732" y="495" width="7" height="8" fill="#000" />
<rect x="733" y="496" width="5" height="6" fill="#fff" />
<rect x="741" y="495" width="7" height="8" fill="#000" />
<rect x="742" y="496" width="5" height="6" fill="#fff" />
<rect x="750" y="495" width="7" height="8" fill="#000" />
<rect x="751" y="496" width="5" height="6" fill="#fff" />
<rect x="759" y="495" width="7" height="8" fill="#000" />
<rect x="760" y="496" width="5" height="6" fill="#fff" />
<rect x="768" y="495" width="7" height="8" fill="#000" />
<rect x="769" y="496" width="5" height="6" fill="#fff" />
<rect x="672" y="504" width="7" height="2" fill="#000" />
<rect x="672" y="509" width="7" height="1" fill="#000" />
<rect x="672" y="510" width="1" height="2" fill="#000" />
<rect x="678" y="510" width="1" height="2" fill="#000" />
<rect x="673" y="511" width="5" height="1" fill="#000" />
<rect x="673" y="512" width="1" height="1" fill="#000" />
<rect x="677" y="512" width="1" height="1" fill="#000" />
<rect x="674" y="512" width="3" height="2" fill="#000" />
<rect x="681" y="504" width="7" height="2" fill="#000" />
<rect x="681" y="509" width="7" height="1" fill="#000" />
<rect x="681" y="510" width="1" height="2" fill="#000" />
<rect x="687" y="510" width="1" height="2" fill="#000" />
<rect x="682" y="511" width="5" height="1" fill="#000" />
<rect x="682" y="512" width="1" height="1" fill="#000" />
<rect x="686" y="512" width="1" height="1" fill="#000" />
<rect x="683" y="512" width="3" height="2" fill="#000" />
<rect x="690" y="504" width="7" height="2" fill="#000" />
<rect x="690" y="509" width="7" height="1" fill="#000" />
<rect x="690" y="510" width="1" height="2" fill="#000" />
<rect x="696" y="510" width="1" height="2" fill="#000" />
<rect x="691" y="511" width="5" height="1" fill="#000" />
<rect x="691" y="512" width="1" height="1" fill="#000" />
<rect x="695" y="512" width="1" height="1" fill="#000" />
<rect x="692" y="512" width="3" height="2" fill="#000" />
<rect x="700" y="504" width="7" height="2" fill="#000" />
<rect x="700" y="509" width="7" height="1" fill="#000" />
<rect x="700" y="510" width="1" height="2" fill="#000" />
<rect x="706" y="510" width="1" height="2" fill="#000" />
<rect x="701" y="511" width="5" height="1" fill="#000" />
<rect x="701" y="512" width="1" height="1" fill="#000" />
<rect x="705" y="512" width="1" height="1" fill="#000" />
<rect x="702" y="512" width="3" height="2" fill="#000" />
<rect x="709" y="504" width="7" height="2" fill="#000" />
<rect x="709" y="509" width="7" height="1" fill="#000" />
<rect x="709" y="510" width="1" height="2" fill="#000" />
<rect x="715" y="510" width="1" height="2" fill="#000" />
<rect x="710" y="511" width="5" height="1" fill="#000" />
<rect x="710" y="512" width="1" height="1" fill="#000" />
<rect x="714" y="512" width="1" height="1" fill="#000" />
<rect x="711" y="512" width="3" height="2" fill="#000" />
<rect x="718" y="504" width="7" height="2" fill="#000" />
<rect x="718" y="509" width="7" height="1" fill="#000" />
<rect x="718" y="510" width="1" height="2" fill="#000" />
<rect x="724" y="510" width="1" height="2" fill="#000" />
<rect x="719" y="511" width="5" height="1" fill="#000" />
<rect x="719" y="512" width="1" height="1" fill="#000" />
<rect x="723" y="512" width="1" height="1" fill="#000" />
<rect x="720" y="512" width="3" height="2" fill="#000" />
<rect x="727" y="504" width="7" height="2" fill="#000" />
<rect x="727" y="509" width="7" height="1" fill="#000" />
<rect x="727" y="510" width="1" height="2" fill="#000" />
<rect x="733" y="510" width="1" height="2" fill="#000" />
<rect x="728" y="511" width="5" height="1" fill="#000" />
<rect x="728" y="512" width="1" height="1" fill="#000" />
<rect x="732" y="512" width="1" height="1" fill="#000" />
<rect x="729" y="512" width="3" height="2" fill="#000" />
<rect x="736" y="504" width="7" height="2" fill="#000" />
<rect x="736" y="509" width="7" height="1" fill="#000" />
<rect x="736" y="510" width="1" height="2" fill="#000" />
<rect x="742" y="510" width="1" height="2" fill="#000" />
<rect x="737" y="511" width="5" height="1" fill="#000" />
<rect x="737" y="512" width="1" height="1" fill="#000" />
<rect x="741" y="512" width="1" height="1" fill="#000" />
<rect x="738" y="512" width="3" height="2" fill="#000" />
<rect x="746" y="504" width="7" height="2" fill="#000" />
<rect x="746" y="509" width="7" height="1" fill="#000" />
<rect x="746" y="510" width="1" height="2" fill="#000" />
<rect x="752" y="510" width="1" height="2" fill="#000" />
<rect x="747" y="511" width="5" height="1" fill="#000" />
<rect x="747" y="512" width="1" height="1" fill="#000" />
<rect x="751" y="512" width="1" height="1" fill="#000" />
<rect x="748" y="512" width="3" height="2" fill="#000" />
<rect x="755" y="504" width="7" height="2" fill="#000" />
<rect x="755" y="509" width="7" height="1" fill="#000" />
<rect x="755" y="510" width="1" height="2" fill="#000" />
<rect x="761" y="510" width="1" height="2" fill="#000" />
<rect x="756" y="511" width="5" height="1" fill="#000" />
<rect x="756" y="512" width="1" height="1" fill="#000" />
<rect x="760" y="512" width="1" height="1" fill="#000" />
<rect x="757" y="512" width="3" height="2" fill="#000" />
<rect x="764" y="504" width="7" height="2" fill="#000" />
<rect x="764" y="509" width="7" height="1" fill="#000" />
<rect x="764" y="510" width="1" height="2" fill="#000" />
<rect x="770" y="510" width="1" height="2" fill="#000" />
<rect x="765" y="511" width="5" height="1" fill="#000" />
<rect x="765" y="512" width="1" height="1" fill="#000" />
<rect x="769" y="512" width="1" height="1" fill="#000" />
<rect x="766" y="512" width="3" height="2" fill="#000" />
<rect x="773" y="504" width="7" height="2" fill="#000" />
<rect x="773" y="509" width="7" height="1" fill="#000" />
<rect x="773" y="510" width="1" height="2" fill="#000" />
<rect x="779" y="510" width="1" height="2" fill="#000" />
<rect x="774" y="511" width="5" height="1" fill="#000" />
<rect x="774" y="512" width="1" height="1" fill="#000" />
<rect x="778" y="512" width="1" height="1" fill="#000" />
<rect x="775" y="512" width="3" height="2" fill="#000" />
<rect x="670" y="496" width="2" height="2" fill="#fff" />
<rect x="670" y="500" width="2" height="2" fill="#fff" />
<rect x="672" y="495" width="1" height="8" fill="#000" />
<rect x="671" y="498" width="1" height="2" fill="#000" />
<rect x="780" y="496" width="2" height="2" fill="#fff" />
<rect x="780" y="500" width="2" height="2" fill="#fff" />
<rect x="779" y="495" width="1" height="8" fill="#000" />
<rect x="780" y="498" width="1" height="2" fill="#000" />
<rect x="169" y="40" width="58" height="18" fill="#000" />
<rect x="170" y="43" width="55" height="14" fill="#fff" />
<rect x="169" y="131" width="58" height="16" fill="#000" />
<rect x="170" y="132" width="55" height="14" fill="#fff" />
<rect x="76" y="21" width="36" height="20" rx="3.5" fill="#fff" shape-rendering="auto"/>
<path d="M78,26.7 L68.08,29.2 L62,30.1 L62,30.9 L68.08,31.8 L78,34.3 Z" fill="#fff" stroke="#fff" stroke-width="2.6" stroke-linejoin="round" shape-rendering="auto"/>
<path d="M78,26.7 L68.08,29.2 L62,30.1 L62,30.9 L68.08,31.8 L78,34.3 Z" fill="#fff" stroke="#000" stroke-width="1.5" stroke-linejoin="miter" shape-rendering="auto"/>
<path d="M69.58,29.3 L62,29.9 L62,31.1 L69.58,31.7 Z" fill="#000" shape-rendering="auto"/>
<rect x="78.0" y="23.0" width="32" height="16" rx="2.5" fill="#fff" stroke="#000" stroke-width="2" shape-rendering="auto"/>
<rect x="76.8" y="27.7" width="2.4" height="5.6" fill="#fff" shape-rendering="auto"/>
<rect x="87" y="46" width="36" height="19" rx="3.5" fill="#fff" shape-rendering="auto"/>
<path d="M89,50.7 L78.46000000000001,53.2 L72,54.1 L72,54.9 L78.46000000000001,55.8 L89,58.3 Z" fill="#fff" stroke="#fff" stroke-width="2.6" stroke-linejoin="round" shape-rendering="auto"/>
<path d="M89,50.7 L78.46000000000001,53.2 L72,54.1 L72,54.9 L78.46000000000001,55.8 L89,58.3 Z" fill="#fff" stroke="#000" stroke-width="1.5" stroke-linejoin="miter" shape-rendering="auto"/>
<path d="M79.96000000000001,53.3 L72,53.9 L72,55.1 L79.96000000000001,55.7 Z" fill="#000" shape-rendering="auto"/>
<rect x="89.0" y="48.0" width="32" height="15" rx="2.5" fill="#fff" stroke="#000" stroke-width="2" shape-rendering="auto"/>
<rect x="87.8" y="51.7" width="2.4" height="5.6" fill="#fff" shape-rendering="auto"/>
<rect x="39" y="77" width="36" height="21" rx="3.5" fill="#fff" shape-rendering="auto"/>
<path d="M54.7,79 L57.2,68.46000000000001 L58.1,62 L58.9,62 L59.8,68.46000000000001 L62.3,79 Z" fill="#fff" stroke="#fff" stroke-width="2.6" stroke-linejoin="round" shape-rendering="auto"/>
<path d="M54.7,79 L57.2,68.46000000000001 L58.1,62 L58.9,62 L59.8,68.46000000000001 L62.3,79 Z" fill="#fff" stroke="#000" stroke-width="1.5" stroke-linejoin="miter" shape-rendering="auto"/>
<path d="M57.3,69.96000000000001 L57.9,62 L59.1,62 L59.7,69.96000000000001 Z" fill="#000" shape-rendering="auto"/>
<rect x="41.0" y="79.0" width="32" height="17" rx="2.5" fill="#fff" stroke="#000" stroke-width="2" shape-rendering="auto"/>
<rect x="55.7" y="77.8" width="5.6" height="2.4" fill="#fff" shape-rendering="auto"/>
<rect x="86" y="136" width="37" height="19" rx="3.5" fill="#fff" shape-rendering="auto"/>
<path d="M88,141.2 L77.46000000000001,143.7 L71,144.6 L71,145.4 L77.46000000000001,146.3 L88,148.8 Z" fill="#fff" stroke="#fff" stroke-width="2.6" stroke-linejoin="round" shape-rendering="auto"/>
<path d="M88,141.2 L77.46000000000001,143.7 L71,144.6 L71,145.4 L77.46000000000001,146.3 L88,148.8 Z" fill="#fff" stroke="#000" stroke-width="1.5" stroke-linejoin="miter" shape-rendering="auto"/>
<path d="M78.96000000000001,143.8 L71,144.4 L71,145.6 L78.96000000000001,146.2 Z" fill="#000" shape-rendering="auto"/>
<rect x="88.0" y="138.0" width="33" height="15" rx="2.5" fill="#fff" stroke="#000" stroke-width="2" shape-rendering="auto"/>
<rect x="86.8" y="142.2" width="2.4" height="5.6" fill="#fff" shape-rendering="auto"/>
<rect x="38" y="169" width="36" height="20" rx="3.5" fill="#fff" shape-rendering="auto"/>
<path d="M52.7,171 L55.2,160.15 L56.1,153.5 L56.9,153.5 L57.8,160.15 L60.3,171 Z" fill="#fff" stroke="#fff" stroke-width="2.6" stroke-linejoin="round" shape-rendering="auto"/>
<path d="M52.7,171 L55.2,160.15 L56.1,153.5 L56.9,153.5 L57.8,160.15 L60.3,171 Z" fill="#fff" stroke="#000" stroke-width="1.5" stroke-linejoin="miter" shape-rendering="auto"/>
<path d="M55.3,161.65 L55.9,153.5 L57.1,153.5 L57.7,161.65 Z" fill="#000" shape-rendering="auto"/>
<rect x="40.0" y="171.0" width="32" height="16" rx="2.5" fill="#fff" stroke="#000" stroke-width="2" shape-rendering="auto"/>
<rect x="53.7" y="169.8" width="5.6" height="2.4" fill="#fff" shape-rendering="auto"/>
<rect x="60" y="290" width="36" height="20" rx="3.5" fill="#fff" shape-rendering="auto"/>
<path d="M73.5,308 L76.0,318.85 L76.89999999999999,325.5 L77.7,325.5 L78.6,318.85 L81.1,308 Z" fill="#fff" stroke="#fff" stroke-width="2.6" stroke-linejoin="round" shape-rendering="auto"/>
<path d="M73.5,308 L76.0,318.85 L76.89999999999999,325.5 L77.7,325.5 L78.6,318.85 L81.1,308 Z" fill="#fff" stroke="#000" stroke-width="1.5" stroke-linejoin="miter" shape-rendering="auto"/>
<path d="M76.1,317.35 L76.7,325.5 L77.89999999999999,325.5 L78.5,317.35 Z" fill="#000" shape-rendering="auto"/>
<rect x="62.0" y="292.0" width="32" height="16" rx="2.5" fill="#fff" stroke="#000" stroke-width="2" shape-rendering="auto"/>
<rect x="74.5" y="306.8" width="5.6" height="2.4" fill="#fff" shape-rendering="auto"/>
<rect x="14" y="326" width="36" height="20" rx="3.5" fill="#fff" shape-rendering="auto"/>
<path d="M48,332.7 L57.92,335.2 L64,336.1 L64,336.9 L57.92,337.8 L48,340.3 Z" fill="#fff" stroke="#fff" stroke-width="2.6" stroke-linejoin="round" shape-rendering="auto"/>
<path d="M48,332.7 L57.92,335.2 L64,336.1 L64,336.9 L57.92,337.8 L48,340.3 Z" fill="#fff" stroke="#000" stroke-width="1.5" stroke-linejoin="miter" shape-rendering="auto"/>
<path d="M56.42,335.3 L64,335.9 L64,337.1 L56.42,337.7 Z" fill="#000" shape-rendering="auto"/>
<rect x="16.0" y="328.0" width="32" height="16" rx="2.5" fill="#fff" stroke="#000" stroke-width="2" shape-rendering="auto"/>
<rect x="46.8" y="333.7" width="2.4" height="5.6" fill="#fff" shape-rendering="auto"/>
<rect x="104" y="327" width="37" height="20" rx="3.5" fill="#fff" shape-rendering="auto"/>
<path d="M106,333.2 L96.08,335.7 L90,336.6 L90,337.4 L96.08,338.3 L106,340.8 Z" fill="#fff" stroke="#fff" stroke-width="2.6" stroke-linejoin="round" shape-rendering="auto"/>
<path d="M106,333.2 L96.08,335.7 L90,336.6 L90,337.4 L96.08,338.3 L106,340.8 Z" fill="#fff" stroke="#000" stroke-width="1.5" stroke-linejoin="miter" shape-rendering="auto"/>
<path d="M97.58,335.8 L90,336.4 L90,337.6 L97.58,338.2 Z" fill="#000" shape-rendering="auto"/>
<rect x="106.0" y="329.0" width="33" height="16" rx="2.5" fill="#fff" stroke="#000" stroke-width="2" shape-rendering="auto"/>
<rect x="104.8" y="334.2" width="2.4" height="5.6" fill="#fff" shape-rendering="auto"/>
<rect x="6" y="351" width="44" height="19" rx="3.5" fill="#fff" shape-rendering="auto"/>
<path d="M48,356.2 L57.3,358.7 L63,359.6 L63,360.4 L57.3,361.3 L48,363.8 Z" fill="#fff" stroke="#fff" stroke-width="2.6" stroke-linejoin="round" shape-rendering="auto"/>
<path d="M48,356.2 L57.3,358.7 L63,359.6 L63,360.4 L57.3,361.3 L48,363.8 Z" fill="#fff" stroke="#000" stroke-width="1.5" stroke-linejoin="miter" shape-rendering="auto"/>
<path d="M55.8,358.8 L63,359.4 L63,360.6 L55.8,361.2 Z" fill="#000" shape-rendering="auto"/>
<rect x="8.0" y="353.0" width="40" height="15" rx="2.5" fill="#fff" stroke="#000" stroke-width="2" shape-rendering="auto"/>
<rect x="46.8" y="357.2" width="2.4" height="5.6" fill="#fff" shape-rendering="auto"/>
<rect x="94" y="368" width="38" height="21" rx="3.5" fill="#fff" shape-rendering="auto"/>
<path d="M100,370 L94,365.5 L89.8,361.6 L89.2,362.6 L92.5,368 L96,374.5 Z" fill="#fff" stroke="#fff" stroke-width="2.6" stroke-linejoin="round" shape-rendering="auto"/>
<path d="M100,370 L94,365.5 L89.8,361.6 L89.2,362.6 L92.5,368 L96,374.5 Z" fill="#fff" stroke="#000" stroke-width="1.5" stroke-linejoin="miter" shape-rendering="auto"/>
<rect x="96.0" y="370.0" width="34" height="17" rx="2.5" fill="#fff" stroke="#000" stroke-width="2" shape-rendering="auto"/>
<rect x="58" y="385" width="35" height="21" rx="3.5" fill="#fff" shape-rendering="auto"/>
<path d="M72.0,387 L74.2,377.08 L75.1,371 L75.9,371 L76.8,377.08 L79.0,387 Z" fill="#fff" stroke="#fff" stroke-width="2.6" stroke-linejoin="round" shape-rendering="auto"/>
<path d="M72.0,387 L74.2,377.08 L75.1,371 L75.9,371 L76.8,377.08 L79.0,387 Z" fill="#fff" stroke="#000" stroke-width="1.5" stroke-linejoin="miter" shape-rendering="auto"/>
<path d="M74.3,378.58 L74.9,371 L76.1,371 L76.7,378.58 Z" fill="#000" shape-rendering="auto"/>
<rect x="60.0" y="387.0" width="31" height="17" rx="2.5" fill="#fff" stroke="#000" stroke-width="2" shape-rendering="auto"/>
<rect x="73.0" y="385.8" width="5.0" height="2.4" fill="#fff" shape-rendering="auto"/>
<rect x="54.0" y="426.0" width="57" height="16" rx="1" fill="#fff" stroke="#000" stroke-width="2" shape-rendering="auto"/>
<rect x="105" y="449" width="51" height="22" rx="4" fill="#fff" shape-rendering="auto"/>
<rect x="106.8" y="450.8" width="47.4" height="18.4" rx="3" fill="#fff" stroke="#000" stroke-width="1.6" shape-rendering="auto"/>
<rect x="147" y="476" width="60" height="19" rx="4" fill="#fff" shape-rendering="auto"/>
<rect x="149.0" y="478.0" width="56" height="15" rx="3" fill="#fff" stroke="#000" stroke-width="2" shape-rendering="auto"/>
<rect x="644" y="399" width="36" height="21" rx="3.5" fill="#fff" shape-rendering="auto"/>
<path d="M657.7,418 L660.2,428.54 L661.1,435 L661.9,435 L662.8,428.54 L665.3,418 Z" fill="#fff" stroke="#fff" stroke-width="2.6" stroke-linejoin="round" shape-rendering="auto"/>
<path d="M657.7,418 L660.2,428.54 L661.1,435 L661.9,435 L662.8,428.54 L665.3,418 Z" fill="#fff" stroke="#000" stroke-width="1.5" stroke-linejoin="miter" shape-rendering="auto"/>
<path d="M660.3,427.04 L660.9,435 L662.1,435 L662.7,427.04 Z" fill="#000" shape-rendering="auto"/>
<rect x="646.0" y="401.0" width="32" height="17" rx="2.5" fill="#fff" stroke="#000" stroke-width="2" shape-rendering="auto"/>
<rect x="658.7" y="416.8" width="5.6" height="2.4" fill="#fff" shape-rendering="auto"/>
<rect x="692" y="407" width="38" height="21" rx="3.5" fill="#fff" shape-rendering="auto"/>
<path d="M728,413.7 L737.92,416.2 L744,417.1 L744,417.9 L737.92,418.8 L728,421.3 Z" fill="#fff" stroke="#fff" stroke-width="2.6" stroke-linejoin="round" shape-rendering="auto"/>
<path d="M728,413.7 L737.92,416.2 L744,417.1 L744,417.9 L737.92,418.8 L728,421.3 Z" fill="#fff" stroke="#000" stroke-width="1.5" stroke-linejoin="miter" shape-rendering="auto"/>
<path d="M736.42,416.3 L744,416.9 L744,418.1 L736.42,418.7 Z" fill="#000" shape-rendering="auto"/>
<rect x="694.0" y="409.0" width="34" height="17" rx="2.5" fill="#fff" stroke="#000" stroke-width="2" shape-rendering="auto"/>
<rect x="726.8" y="414.7" width="2.4" height="5.6" fill="#fff" shape-rendering="auto"/>
<rect x="715" y="435" width="36" height="21" rx="3.5" fill="#fff" shape-rendering="auto"/>
<path d="M745,437.5 L756.3,430 L758.2,430.3 L753,435 L749.5,442 Z" fill="#fff" stroke="#fff" stroke-width="2.6" stroke-linejoin="round" shape-rendering="auto"/>
<path d="M745,437.5 L756.3,430 L758.2,430.3 L753,435 L749.5,442 Z" fill="#fff" stroke="#000" stroke-width="1.5" stroke-linejoin="miter" shape-rendering="auto"/>
<rect x="717.0" y="437.0" width="32" height="17" rx="2.5" fill="#fff" stroke="#000" stroke-width="2" shape-rendering="auto"/>
<g fill="none" stroke="#000" stroke-width="1" stroke-linecap="square" stroke-linejoin="miter"><path d="M351.50,31.50 L351.50,40.50 L354.50,40.50 L355.50,39.50 L355.50,36.50 L354.50,35.50 L351.50,35.50"/>
<path d="M351.50,31.50 L354.50,31.50 L355.50,32.50 L355.50,34.50 L354.50,35.50"/>
<path d="M360.50,31.50 L360.50,40.50"/>
<path d="M365.50,31.50 L368.50,31.50 L369.50,32.50 L369.50,39.50 L368.50,40.50 L365.50,40.50 L364.50,39.50 L364.50,32.50 L365.50,31.50"/>
<path d="M379.50,32.50 L378.50,31.50 L375.50,31.50 L374.50,32.50 L374.50,34.50 L375.50,35.50 L378.50,36.50 L379.50,37.50 L379.50,39.50 L378.50,40.50 L375.50,40.50 L374.50,39.50"/>
<path d="M332.50,263.50 L332.50,254.50 L337.50,263.50 L337.50,254.50"/>
<path d="M342.50,263.50 L342.50,254.50 L345.50,254.50 L346.50,255.50 L346.50,258.50 L345.50,259.50 L342.50,259.50"/>
<path d="M350.50,254.50 L350.50,261.50 L352.50,263.50 L353.50,263.50 L355.50,261.50 L355.50,254.50"/>
<path d="M348.50,455.50 L348.50,454.50 L347.50,453.50 L344.50,453.50 L343.50,454.50 L343.50,461.50 L344.50,462.50 L347.50,462.50 L348.50,461.50 L348.50,460.50"/>
<path d="M353.50,462.50 L353.50,453.50 L356.50,453.50 L357.50,454.50 L357.50,457.50 L356.50,458.50 L353.50,458.50"/>
<path d="M361.50,453.50 L361.50,460.50 L363.50,462.50 L364.50,462.50 L366.50,460.50 L366.50,453.50"/>
<path d="M660.50,363.50 L660.50,372.50"/>
<path d="M665.50,363.50 L660.50,369.50"/>
<path d="M662.50,367.50 L665.50,372.50"/>
<path d="M670.50,363.50 L670.50,372.50 L673.50,372.50 L674.50,371.50 L674.50,368.50 L673.50,367.50 L670.50,367.50"/>
<path d="M670.50,363.50 L673.50,363.50 L674.50,364.50 L674.50,366.50 L673.50,367.50"/>
<path d="M678.50,363.50 L678.50,372.50 L681.50,372.50 L683.50,370.50 L683.50,365.50 L681.50,363.50 L678.50,363.50"/>
<path d="M158.50,369.50 L158.50,376.50 L160.50,378.50 L161.50,378.50 L163.50,376.50 L163.50,369.50"/>
<path d="M167.50,371.39 L168.40,370.50 L171.10,370.50 L172.00,371.39 L172.00,373.17 L171.10,374.06 L169.30,374.06"/>
<path d="M171.10,374.06 L172.00,374.94 L172.00,377.61 L171.10,378.50 L168.40,378.50 L167.50,377.61"/>
<path d="M174.00,371.39 L175.00,370.50 L178.00,370.50 L179.00,371.39 L179.00,373.17 L174.00,377.61 L174.00,378.50 L179.00,378.50"/>
<path d="M158.50,398.50 L158.50,405.50 L160.50,407.50 L161.50,407.50 L163.50,405.50 L163.50,398.50"/>
<path d="M167.50,400.39 L168.40,399.50 L171.10,399.50 L172.00,400.39 L172.00,402.17 L171.10,403.06 L169.30,403.06"/>
<path d="M171.10,403.06 L172.00,403.94 L172.00,406.61 L171.10,407.50 L168.40,407.50 L167.50,406.61"/>
<path d="M174.00,400.39 L175.00,399.50 L178.00,399.50 L179.00,400.39 L179.00,402.17 L178.00,403.06 L176.00,403.06"/>
<path d="M178.00,403.06 L179.00,403.94 L179.00,406.61 L178.00,407.50 L175.00,407.50 L174.00,406.61"/>
<path d="M174.50,44.50 L174.50,53.50 L177.50,53.50 L178.50,52.50 L178.50,49.50 L177.50,48.50 L174.50,48.50"/>
<path d="M174.50,44.50 L177.50,44.50 L178.50,45.50 L178.50,47.50 L177.50,48.50"/>
<path d="M182.50,53.50 L185.50,44.50 L188.50,53.50"/>
<path d="M183.50,50.50 L187.50,50.50"/>
<path d="M192.50,53.50 L192.50,44.50 L197.50,53.50 L197.50,44.50"/>
<path d="M201.50,44.50 L201.50,53.50"/>
<path d="M206.50,44.50 L201.50,50.50"/>
<path d="M203.50,48.50 L206.50,53.50"/>
<path d="M215.50,47.50 L216.50,47.50 L218.50,45.50"/>
<path d="M218.50,44.50 L218.50,53.50"/>
<path d="M174.50,133.50 L174.50,142.50 L177.50,142.50 L178.50,141.50 L178.50,138.50 L177.50,137.50 L174.50,137.50"/>
<path d="M174.50,133.50 L177.50,133.50 L178.50,134.50 L178.50,136.50 L177.50,137.50"/>
<path d="M182.50,142.50 L185.50,133.50 L188.50,142.50"/>
<path d="M183.50,139.50 L187.50,139.50"/>
<path d="M192.50,142.50 L192.50,133.50 L197.50,142.50 L197.50,133.50"/>
<path d="M201.50,133.50 L201.50,142.50"/>
<path d="M206.50,133.50 L201.50,139.50"/>
<path d="M203.50,137.50 L206.50,142.50"/>
<path d="M217.50,133.50 L215.50,136.50 L215.50,139.50 L217.50,142.50 L219.50,139.50 L219.50,136.50 L217.50,133.50"/>
<path d="M86.50,26.50 L86.50,34.50 L85.50,35.50 L84.50,35.50 L83.50,34.50 L83.50,33.50"/>
<path d="M91.50,35.50 L91.50,26.50 L94.50,26.50 L95.50,27.50 L95.50,30.50 L94.50,31.50 L91.50,31.50"/>
<path d="M103.50,35.50 L103.50,26.50 L99.50,32.50 L104.50,32.50"/>
<path d="M97.50,50.50 L96.50,49.50 L93.50,49.50 L92.50,50.50 L92.50,52.50 L93.50,53.50 L96.50,54.50 L97.50,55.50 L97.50,57.50 L96.50,58.50 L93.50,58.50 L92.50,57.50"/>
<rect x="100" y="49" width="1" height="1" fill="#000" stroke="none"/>
<rect x="106" y="49" width="1" height="1" fill="#000" stroke="none"/>
<rect x="100" y="50" width="1" height="1" fill="#000" stroke="none"/>
<rect x="106" y="50" width="1" height="1" fill="#000" stroke="none"/>
<rect x="100" y="51" width="1" height="1" fill="#000" stroke="none"/>
<rect x="106" y="51" width="1" height="1" fill="#000" stroke="none"/>
<rect x="100" y="52" width="1" height="1" fill="#000" stroke="none"/>
<rect x="103" y="52" width="1" height="1" fill="#000" stroke="none"/>
<rect x="106" y="52" width="1" height="1" fill="#000" stroke="none"/>
<rect x="101" y="53" width="1" height="1" fill="#000" stroke="none"/>
<rect x="103" y="53" width="1" height="1" fill="#000" stroke="none"/>
<rect x="105" y="53" width="1" height="1" fill="#000" stroke="none"/>
<rect x="101" y="54" width="1" height="1" fill="#000" stroke="none"/>
<rect x="103" y="54" width="1" height="1" fill="#000" stroke="none"/>
<rect x="105" y="54" width="1" height="1" fill="#000" stroke="none"/>
<rect x="101" y="55" width="1" height="1" fill="#000" stroke="none"/>
<rect x="102" y="55" width="1" height="1" fill="#000" stroke="none"/>
<rect x="104" y="55" width="1" height="1" fill="#000" stroke="none"/>
<rect x="105" y="55" width="1" height="1" fill="#000" stroke="none"/>
<rect x="101" y="56" width="1" height="1" fill="#000" stroke="none"/>
<rect x="102" y="56" width="1" height="1" fill="#000" stroke="none"/>
<rect x="104" y="56" width="1" height="1" fill="#000" stroke="none"/>
<rect x="105" y="56" width="1" height="1" fill="#000" stroke="none"/>
<rect x="101" y="57" width="1" height="1" fill="#000" stroke="none"/>
<rect x="105" y="57" width="1" height="1" fill="#000" stroke="none"/>
<rect x="101" y="58" width="1" height="1" fill="#000" stroke="none"/>
<rect x="105" y="58" width="1" height="1" fill="#000" stroke="none"/>
<path d="M112.50,52.50 L113.50,52.50 L115.50,50.50"/>
<path d="M115.50,49.50 L115.50,58.50"/>
<path d="M48.50,83.50 L47.50,82.50 L44.50,82.50 L43.50,83.50 L43.50,85.50 L44.50,86.50 L47.50,87.50 L48.50,88.50 L48.50,90.50 L47.50,91.50 L44.50,91.50 L43.50,90.50"/>
<rect x="51" y="82" width="1" height="1" fill="#000" stroke="none"/>
<rect x="57" y="82" width="1" height="1" fill="#000" stroke="none"/>
<rect x="51" y="83" width="1" height="1" fill="#000" stroke="none"/>
<rect x="57" y="83" width="1" height="1" fill="#000" stroke="none"/>
<rect x="51" y="84" width="1" height="1" fill="#000" stroke="none"/>
<rect x="57" y="84" width="1" height="1" fill="#000" stroke="none"/>
<rect x="51" y="85" width="1" height="1" fill="#000" stroke="none"/>
<rect x="54" y="85" width="1" height="1" fill="#000" stroke="none"/>
<rect x="57" y="85" width="1" height="1" fill="#000" stroke="none"/>
<rect x="52" y="86" width="1" height="1" fill="#000" stroke="none"/>
<rect x="54" y="86" width="1" height="1" fill="#000" stroke="none"/>
<rect x="56" y="86" width="1" height="1" fill="#000" stroke="none"/>
<rect x="52" y="87" width="1" height="1" fill="#000" stroke="none"/>
<rect x="54" y="87" width="1" height="1" fill="#000" stroke="none"/>
<rect x="56" y="87" width="1" height="1" fill="#000" stroke="none"/>
<rect x="52" y="88" width="1" height="1" fill="#000" stroke="none"/>
<rect x="53" y="88" width="1" height="1" fill="#000" stroke="none"/>
<rect x="55" y="88" width="1" height="1" fill="#000" stroke="none"/>
<rect x="56" y="88" width="1" height="1" fill="#000" stroke="none"/>
<rect x="52" y="89" width="1" height="1" fill="#000" stroke="none"/>
<rect x="53" y="89" width="1" height="1" fill="#000" stroke="none"/>
<rect x="55" y="89" width="1" height="1" fill="#000" stroke="none"/>
<rect x="56" y="89" width="1" height="1" fill="#000" stroke="none"/>
<rect x="52" y="90" width="1" height="1" fill="#000" stroke="none"/>
<rect x="56" y="90" width="1" height="1" fill="#000" stroke="none"/>
<rect x="52" y="91" width="1" height="1" fill="#000" stroke="none"/>
<rect x="56" y="91" width="1" height="1" fill="#000" stroke="none"/>
<path d="M64.50,83.50 L65.50,82.50 L68.50,82.50 L69.50,83.50 L69.50,85.50 L64.50,90.50 L64.50,91.50 L69.50,91.50"/>
<path d="M96.50,140.50 L96.50,148.50 L95.50,149.50 L94.50,149.50 L93.50,148.50 L93.50,147.50"/>
<path d="M100.50,141.50 L101.50,140.50 L104.50,140.50 L105.50,141.50 L105.50,143.50 L100.50,148.50 L100.50,149.50 L105.50,149.50"/>
<path d="M107.50,141.50 L108.50,140.50 L111.50,140.50 L112.50,141.50 L112.50,143.50 L111.50,144.50 L109.50,144.50"/>
<path d="M111.50,144.50 L112.50,145.50 L112.50,148.50 L111.50,149.50 L108.50,149.50 L107.50,148.50"/>
<path d="M48.50,173.50 L48.50,181.50 L47.50,182.50 L46.50,182.50 L45.50,181.50 L45.50,180.50"/>
<path d="M52.50,174.50 L53.50,173.50 L56.50,173.50 L57.50,174.50 L57.50,176.50 L52.50,181.50 L52.50,182.50 L57.50,182.50"/>
<path d="M64.50,182.50 L64.50,173.50 L60.50,179.50 L65.50,179.50"/>
<path d="M69.50,294.50 L69.50,302.50 L68.50,303.50 L67.50,303.50 L66.50,302.50 L66.50,301.50"/>
<path d="M74.50,303.50 L74.50,294.50 L77.50,294.50 L78.50,295.50 L78.50,298.50 L77.50,299.50 L74.50,299.50"/>
<path d="M86.50,295.50 L85.50,294.50 L82.50,294.50 L81.50,295.50 L81.50,302.50 L82.50,303.50 L85.50,303.50 L86.50,302.50 L86.50,299.50 L85.50,298.50 L81.50,298.50"/>
<path d="M23.50,331.50 L23.50,339.50 L22.50,340.50 L21.50,340.50 L20.50,339.50 L20.50,338.50"/>
<path d="M29.50,340.50 L29.50,331.50 L32.50,331.50 L33.50,332.50 L33.50,335.50 L32.50,336.50 L29.50,336.50"/>
<path d="M37.50,331.50 L42.50,331.50 L42.50,332.50 L39.50,340.50"/>
<path d="M114.50,332.50 L114.50,340.50 L113.50,341.50 L112.50,341.50 L111.50,340.50 L111.50,339.50"/>
<path d="M119.50,341.50 L119.50,332.50 L122.50,332.50 L123.50,333.50 L123.50,336.50 L122.50,337.50 L119.50,337.50"/>
<path d="M132.50,332.50 L127.50,332.50 L127.50,336.50 L131.50,336.50 L132.50,337.50 L132.50,340.50 L131.50,341.50 L128.50,341.50 L127.50,340.50"/>
<path d="M15.50,355.50 L15.50,363.50 L14.50,364.50 L13.50,364.50 L12.50,363.50 L12.50,362.50"/>
<path d="M21.50,364.50 L21.50,355.50 L24.50,355.50 L25.50,356.50 L25.50,359.50 L24.50,360.50 L21.50,360.50"/>
<path d="M29.50,358.50 L30.50,358.50 L32.50,356.50"/>
<path d="M32.50,355.50 L32.50,364.50"/>
<path d="M37.50,355.50 L35.50,358.50 L35.50,361.50 L37.50,364.50 L39.50,361.50 L39.50,358.50 L37.50,355.50"/>
<path d="M104.50,373.50 L104.50,381.50 L103.50,382.50 L102.50,382.50 L101.50,381.50 L101.50,380.50"/>
<path d="M110.50,382.50 L110.50,373.50 L113.50,373.50 L114.50,374.50 L114.50,377.50 L113.50,378.50 L110.50,378.50"/>
<path d="M118.50,373.50 L121.50,373.50 L122.50,374.50 L122.50,376.50 L121.50,377.50 L118.50,377.50 L117.50,376.50 L117.50,374.50 L118.50,373.50"/>
<path d="M118.50,377.50 L117.50,378.50 L117.50,381.50 L118.50,382.50 L121.50,382.50 L122.50,381.50 L122.50,378.50 L121.50,377.50"/>
<path d="M67.50,390.50 L67.50,398.50 L66.50,399.50 L65.50,399.50 L64.50,398.50 L64.50,397.50"/>
<path d="M72.50,399.50 L72.50,390.50 L75.50,390.50 L76.50,391.50 L76.50,394.50 L75.50,395.50 L72.50,395.50"/>
<path d="M85.50,394.50 L84.50,395.50 L81.50,395.50 L80.50,394.50 L80.50,391.50 L81.50,390.50 L84.50,390.50 L85.50,391.50 L85.50,398.50 L84.50,399.50 L81.50,399.50 L80.50,398.50"/>
<path d="M59.50,429.50 L59.50,438.50 L62.50,438.50 L63.50,437.50 L63.50,434.50 L62.50,433.50 L59.50,433.50"/>
<path d="M59.50,429.50 L62.50,429.50 L63.50,430.50 L63.50,432.50 L62.50,433.50"/>
<path d="M67.50,438.50 L70.50,429.50 L73.50,438.50"/>
<path d="M68.50,435.50 L72.50,435.50"/>
<path d="M77.50,438.50 L77.50,429.50 L82.50,438.50 L82.50,429.50"/>
<path d="M86.50,429.50 L86.50,438.50"/>
<path d="M91.50,429.50 L86.50,435.50"/>
<path d="M88.50,433.50 L91.50,438.50"/>
<path d="M100.50,432.50 L101.50,432.50 L103.50,430.50"/>
<path d="M103.50,429.50 L103.50,438.50"/>
<path d="M113.50,456.50 L113.50,455.50 L112.50,454.50 L109.50,454.50 L108.50,455.50 L108.50,462.50 L109.50,463.50 L112.50,463.50 L113.50,462.50 L113.50,461.50"/>
<path d="M117.50,463.50 L120.50,454.50 L123.50,463.50"/>
<path d="M118.50,460.50 L122.50,460.50"/>
<path d="M131.50,456.50 L131.50,455.50 L130.50,454.50 L127.50,454.50 L126.50,455.50 L126.50,462.50 L127.50,463.50 L130.50,463.50 L131.50,462.50 L131.50,461.50"/>
<path d="M136.50,454.50 L136.50,463.50"/>
<path d="M141.50,454.50 L141.50,463.50"/>
<path d="M136.50,458.50 L141.50,458.50"/>
<path d="M150.50,454.50 L146.50,454.50 L146.50,463.50 L150.50,463.50"/>
<path d="M146.50,458.50 L149.50,458.50"/>
<path d="M153.50,480.50 L153.50,489.50 L156.50,489.50 L157.50,488.50 L157.50,485.50 L156.50,484.50 L153.50,484.50"/>
<path d="M153.50,480.50 L156.50,480.50 L157.50,481.50 L157.50,483.50 L156.50,484.50"/>
<path d="M161.50,489.50 L164.50,480.50 L167.50,489.50"/>
<path d="M162.50,486.50 L166.50,486.50"/>
<path d="M171.50,489.50 L171.50,480.50 L176.50,489.50 L176.50,480.50"/>
<path d="M180.50,480.50 L180.50,489.50"/>
<path d="M185.50,480.50 L180.50,486.50"/>
<path d="M182.50,484.50 L185.50,489.50"/>
<path d="M196.50,480.50 L194.50,483.50 L194.50,486.50 L196.50,489.50 L198.50,486.50 L198.50,483.50 L196.50,480.50"/>
<path d="M653.50,404.50 L653.50,412.50 L652.50,413.50 L651.50,413.50 L650.50,412.50 L650.50,411.50"/>
<path d="M658.50,413.50 L658.50,404.50 L661.50,404.50 L662.50,405.50 L662.50,408.50 L661.50,409.50 L658.50,409.50"/>
<path d="M666.50,405.50 L667.50,404.50 L670.50,404.50 L671.50,405.50 L671.50,407.50 L666.50,412.50 L666.50,413.50 L671.50,413.50"/>
<path d="M703.50,411.50 L703.50,419.50 L702.50,420.50 L701.50,420.50 L700.50,419.50 L700.50,418.50"/>
<path d="M708.50,420.50 L708.50,411.50 L711.50,411.50 L712.50,412.50 L712.50,415.50 L711.50,416.50 L708.50,416.50"/>
<path d="M716.50,414.50 L717.50,414.50 L719.50,412.50"/>
<path d="M719.50,411.50 L719.50,420.50"/>
<path d="M726.50,440.50 L726.50,448.50 L725.50,449.50 L724.50,449.50 L723.50,448.50 L723.50,447.50"/>
<path d="M731.50,443.50 L732.50,443.50 L734.50,441.50"/>
<path d="M734.50,440.50 L734.50,449.50"/>
<path d="M740.50,440.50 L738.50,443.50 L738.50,446.50 L740.50,449.50 L742.50,446.50 L742.50,443.50 L740.50,440.50"/>
<rect x="636" y="39" width="1" height="1" fill="#000" stroke="none"/>
<rect x="641" y="39" width="1" height="1" fill="#000" stroke="none"/>
<rect x="636" y="40" width="1" height="1" fill="#000" stroke="none"/>
<rect x="637" y="40" width="1" height="1" fill="#000" stroke="none"/>
<rect x="640" y="40" width="1" height="1" fill="#000" stroke="none"/>
<rect x="641" y="40" width="1" height="1" fill="#000" stroke="none"/>
<rect x="636" y="41" width="1" height="1" fill="#000" stroke="none"/>
<rect x="637" y="41" width="1" height="1" fill="#000" stroke="none"/>
<rect x="640" y="41" width="1" height="1" fill="#000" stroke="none"/>
<rect x="641" y="41" width="1" height="1" fill="#000" stroke="none"/>
<rect x="636" y="42" width="1" height="1" fill="#000" stroke="none"/>
<rect x="637" y="42" width="1" height="1" fill="#000" stroke="none"/>
<rect x="640" y="42" width="1" height="1" fill="#000" stroke="none"/>
<rect x="641" y="42" width="1" height="1" fill="#000" stroke="none"/>
<rect x="636" y="43" width="1" height="1" fill="#000" stroke="none"/>
<rect x="637" y="43" width="1" height="1" fill="#000" stroke="none"/>
<rect x="640" y="43" width="1" height="1" fill="#000" stroke="none"/>
<rect x="641" y="43" width="1" height="1" fill="#000" stroke="none"/>
<rect x="636" y="44" width="1" height="1" fill="#000" stroke="none"/>
<rect x="638" y="44" width="1" height="1" fill="#000" stroke="none"/>
<rect x="639" y="44" width="1" height="1" fill="#000" stroke="none"/>
<rect x="641" y="44" width="1" height="1" fill="#000" stroke="none"/>
<rect x="636" y="45" width="1" height="1" fill="#000" stroke="none"/>
<rect x="638" y="45" width="1" height="1" fill="#000" stroke="none"/>
<rect x="639" y="45" width="1" height="1" fill="#000" stroke="none"/>
<rect x="641" y="45" width="1" height="1" fill="#000" stroke="none"/>
<rect x="636" y="46" width="1" height="1" fill="#000" stroke="none"/>
<rect x="638" y="46" width="1" height="1" fill="#000" stroke="none"/>
<rect x="639" y="46" width="1" height="1" fill="#000" stroke="none"/>
<rect x="641" y="46" width="1" height="1" fill="#000" stroke="none"/>
<rect x="636" y="47" width="1" height="1" fill="#000" stroke="none"/>
<rect x="638" y="47" width="1" height="1" fill="#000" stroke="none"/>
<rect x="641" y="47" width="1" height="1" fill="#000" stroke="none"/>
<path d="M645.50,39.50 L645.50,47.50"/>
<path d="M649.50,39.50 L649.50,47.50"/>
<path d="M645.50,43.06 L649.50,43.06"/>
<path d="M652.50,42.83 L653.50,42.83 L655.50,41.28"/>
<path d="M655.50,40.50 L655.50,47.50"/>
<path d="M659.50,41.28 L660.30,40.50 L662.70,40.50 L663.50,41.28 L663.50,42.83 L662.70,43.61 L661.10,43.61"/>
<path d="M662.70,43.61 L663.50,44.39 L663.50,46.72 L662.70,47.50 L660.30,47.50 L659.50,46.72"/>
<path d="M670.50,43.61 L669.70,44.39 L667.30,44.39 L666.50,43.61 L666.50,41.28 L667.30,40.50 L669.70,40.50 L670.50,41.28 L670.50,46.72 L669.70,47.50 L667.30,47.50 L666.50,46.72"/>
<path d="M673.50,40.50 L677.50,40.50 L677.50,41.28 L675.10,47.50"/></g>
</svg>
</body></html>
